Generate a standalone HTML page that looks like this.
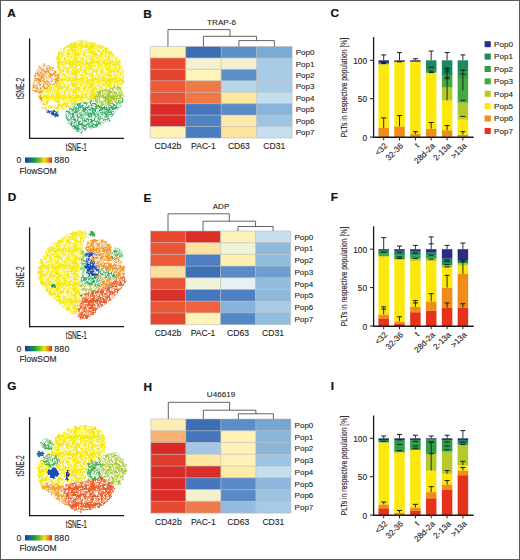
<!DOCTYPE html><html><head><meta charset="utf-8"><style>html,body{margin:0;padding:0;background:#fff;width:520px;height:560px;overflow:hidden}text{font-family:"Liberation Sans",sans-serif}</style></head><body><svg width="520" height="560" viewBox="0 0 520 560" style="display:block;font-family:'Liberation Sans',sans-serif">
<defs>
<pattern id="spk" width="17" height="17" patternUnits="userSpaceOnUse"><g fill="#fff"><circle cx="5.5" cy="2.6" r="0.69"/><circle cx="1.2" cy="9.1" r="0.56"/><circle cx="1.0" cy="8.6" r="0.42"/><circle cx="7.4" cy="1.2" r="0.44"/><circle cx="7.2" cy="14.1" r="0.46"/><circle cx="3.8" cy="10.7" r="0.83"/><circle cx="9.8" cy="6.7" r="0.84"/><circle cx="0.8" cy="14.6" r="0.53"/><circle cx="17.8" cy="14.6" r="0.53"/><circle cx="2.5" cy="2.0" r="0.54"/><circle cx="13.9" cy="3.1" r="0.66"/><circle cx="10.9" cy="6.3" r="0.65"/><circle cx="1.1" cy="1.0" r="0.49"/><circle cx="11.6" cy="7.3" r="0.54"/><circle cx="10.0" cy="7.7" r="0.53"/><circle cx="13.5" cy="11.9" r="0.51"/><circle cx="9.8" cy="8.9" r="0.79"/><circle cx="12.4" cy="4.9" r="0.84"/><circle cx="2.0" cy="7.1" r="0.74"/><circle cx="2.6" cy="8.3" r="0.42"/><circle cx="11.4" cy="13.0" r="0.66"/><circle cx="14.9" cy="5.3" r="0.71"/><circle cx="10.1" cy="9.9" r="0.61"/><circle cx="14.3" cy="16.1" r="0.61"/><circle cx="11.3" cy="1.0" r="0.72"/><circle cx="11.0" cy="-0.1" r="0.77"/><circle cx="11.0" cy="16.9" r="0.77"/><circle cx="4.8" cy="6.6" r="0.70"/><circle cx="0.4" cy="7.8" r="0.48"/><circle cx="17.4" cy="7.8" r="0.48"/><circle cx="2.0" cy="1.0" r="0.75"/><circle cx="2.2" cy="4.2" r="0.58"/><circle cx="14.8" cy="1.4" r="0.60"/><circle cx="9.3" cy="15.0" r="0.77"/><circle cx="14.7" cy="4.7" r="0.59"/><circle cx="6.1" cy="15.0" r="0.83"/><circle cx="2.6" cy="3.0" r="0.50"/><circle cx="4.0" cy="8.2" r="0.67"/><circle cx="4.5" cy="0.1" r="0.59"/><circle cx="4.5" cy="17.1" r="0.59"/><circle cx="6.3" cy="9.6" r="0.83"/><circle cx="11.7" cy="8.8" r="0.68"/><circle cx="11.5" cy="0.9" r="0.80"/><circle cx="13.3" cy="14.9" r="0.76"/><circle cx="6.7" cy="6.8" r="0.45"/><circle cx="10.8" cy="1.1" r="0.43"/><circle cx="3.5" cy="2.8" r="0.55"/><circle cx="0.9" cy="0.0" r="0.47"/><circle cx="0.9" cy="17.0" r="0.47"/><circle cx="1.7" cy="6.2" r="0.41"/><circle cx="14.9" cy="10.4" r="0.47"/><circle cx="4.3" cy="5.9" r="0.56"/><circle cx="2.1" cy="14.4" r="0.85"/><circle cx="7.9" cy="8.2" r="0.44"/><circle cx="1.7" cy="5.8" r="0.52"/><circle cx="14.1" cy="2.7" r="0.41"/><circle cx="-0.8" cy="9.0" r="0.47"/><circle cx="16.2" cy="9.0" r="0.47"/><circle cx="9.2" cy="0.5" r="0.64"/><circle cx="9.2" cy="17.5" r="0.64"/><circle cx="-0.4" cy="14.7" r="0.71"/><circle cx="16.6" cy="14.7" r="0.71"/><circle cx="4.4" cy="6.2" r="0.48"/><circle cx="13.1" cy="9.1" r="0.75"/><circle cx="5.6" cy="3.8" r="0.77"/><circle cx="-0.3" cy="14.5" r="0.76"/><circle cx="16.7" cy="14.5" r="0.76"/><circle cx="13.9" cy="12.6" r="0.50"/><circle cx="8.8" cy="6.0" r="0.41"/><circle cx="0.5" cy="4.8" r="0.52"/><circle cx="17.5" cy="4.8" r="0.52"/><circle cx="11.8" cy="-0.7" r="0.60"/><circle cx="11.8" cy="16.3" r="0.60"/><circle cx="15.9" cy="-0.2" r="0.83"/><circle cx="15.9" cy="16.8" r="0.83"/><circle cx="6.2" cy="3.7" r="0.50"/><circle cx="3.3" cy="3.5" r="0.68"/><circle cx="15.3" cy="14.3" r="0.62"/><circle cx="11.1" cy="13.6" r="0.44"/><circle cx="11.2" cy="15.5" r="0.75"/><circle cx="12.8" cy="8.1" r="0.48"/><circle cx="13.4" cy="5.7" r="0.76"/><circle cx="-0.5" cy="6.7" r="0.58"/><circle cx="16.5" cy="6.7" r="0.58"/><circle cx="16.1" cy="12.3" r="0.48"/><circle cx="2.2" cy="2.6" r="0.81"/><circle cx="13.7" cy="2.5" r="0.77"/><circle cx="-0.3" cy="11.2" r="0.56"/><circle cx="16.7" cy="11.2" r="0.56"/><circle cx="9.3" cy="2.2" r="0.41"/><circle cx="-0.5" cy="11.0" r="0.64"/><circle cx="16.5" cy="11.0" r="0.64"/><circle cx="15.9" cy="7.4" r="0.79"/><circle cx="14.0" cy="3.6" r="0.51"/><circle cx="5.0" cy="4.1" r="0.66"/><circle cx="4.4" cy="7.1" r="0.46"/><circle cx="15.5" cy="6.0" r="0.61"/><circle cx="9.9" cy="15.4" r="0.59"/><circle cx="15.6" cy="8.5" r="0.64"/><circle cx="8.9" cy="0.3" r="0.60"/><circle cx="8.9" cy="17.3" r="0.60"/><circle cx="3.1" cy="0.1" r="0.76"/><circle cx="3.1" cy="17.1" r="0.76"/><circle cx="2.9" cy="8.0" r="0.73"/><circle cx="9.5" cy="5.5" r="0.63"/><circle cx="9.4" cy="13.3" r="0.45"/><circle cx="9.5" cy="4.2" r="0.52"/></g></pattern>
<pattern id="spk2" width="17" height="17" patternUnits="userSpaceOnUse"><g fill="#fff"><circle cx="13.1" cy="8.6" r="0.70"/><circle cx="12.9" cy="15.5" r="0.65"/><circle cx="10.4" cy="8.6" r="0.68"/><circle cx="11.8" cy="7.7" r="0.69"/><circle cx="8.1" cy="16.0" r="0.76"/><circle cx="14.9" cy="16.0" r="0.57"/><circle cx="9.5" cy="16.0" r="0.83"/><circle cx="2.3" cy="2.1" r="0.65"/><circle cx="1.2" cy="4.1" r="0.48"/><circle cx="11.4" cy="13.3" r="0.85"/><circle cx="2.6" cy="12.2" r="0.75"/><circle cx="2.4" cy="15.0" r="0.89"/><circle cx="3.7" cy="-0.8" r="0.63"/><circle cx="3.7" cy="16.2" r="0.63"/><circle cx="8.3" cy="-0.2" r="0.82"/><circle cx="8.3" cy="16.8" r="0.82"/><circle cx="2.7" cy="7.3" r="0.68"/><circle cx="5.8" cy="3.3" r="0.59"/><circle cx="12.3" cy="0.3" r="0.70"/><circle cx="12.3" cy="17.3" r="0.70"/><circle cx="7.5" cy="0.3" r="0.60"/><circle cx="7.5" cy="17.3" r="0.60"/><circle cx="10.6" cy="8.7" r="0.48"/><circle cx="-0.3" cy="13.4" r="0.89"/><circle cx="16.7" cy="13.4" r="0.89"/><circle cx="1.8" cy="4.5" r="0.47"/><circle cx="13.2" cy="4.6" r="0.51"/><circle cx="7.2" cy="15.5" r="0.82"/><circle cx="4.4" cy="2.5" r="0.86"/><circle cx="9.7" cy="11.9" r="0.49"/><circle cx="1.0" cy="11.7" r="0.64"/><circle cx="1.2" cy="16.0" r="0.74"/><circle cx="13.6" cy="1.4" r="0.84"/><circle cx="1.1" cy="14.7" r="0.65"/><circle cx="5.8" cy="9.4" r="0.87"/><circle cx="4.6" cy="2.2" r="0.69"/><circle cx="4.1" cy="1.9" r="0.52"/><circle cx="0.9" cy="3.4" r="0.59"/><circle cx="17.9" cy="3.4" r="0.59"/><circle cx="5.2" cy="12.9" r="0.58"/><circle cx="8.5" cy="3.0" r="0.61"/><circle cx="0.3" cy="4.3" r="0.46"/><circle cx="17.3" cy="4.3" r="0.46"/><circle cx="12.5" cy="9.4" r="0.54"/><circle cx="8.1" cy="15.9" r="0.50"/><circle cx="13.9" cy="7.3" r="0.67"/><circle cx="14.2" cy="6.7" r="0.68"/><circle cx="11.7" cy="-0.3" r="0.60"/><circle cx="11.7" cy="16.7" r="0.60"/><circle cx="14.1" cy="12.0" r="0.74"/><circle cx="6.9" cy="5.9" r="0.47"/><circle cx="2.2" cy="1.2" r="0.78"/><circle cx="4.3" cy="2.8" r="0.49"/><circle cx="14.3" cy="14.8" r="0.75"/><circle cx="4.8" cy="4.1" r="0.58"/><circle cx="7.8" cy="2.7" r="0.65"/><circle cx="4.5" cy="-0.6" r="0.89"/><circle cx="4.5" cy="16.4" r="0.89"/><circle cx="9.3" cy="4.2" r="0.88"/><circle cx="5.3" cy="6.1" r="0.45"/><circle cx="6.5" cy="8.1" r="0.68"/><circle cx="3.4" cy="8.6" r="0.45"/><circle cx="4.5" cy="1.5" r="0.63"/><circle cx="0.7" cy="0.4" r="0.59"/><circle cx="0.7" cy="17.4" r="0.59"/><circle cx="17.7" cy="0.4" r="0.59"/><circle cx="17.7" cy="17.4" r="0.59"/><circle cx="4.0" cy="10.0" r="0.69"/><circle cx="12.8" cy="11.2" r="0.77"/><circle cx="14.9" cy="6.6" r="0.60"/><circle cx="-0.3" cy="2.5" r="0.78"/><circle cx="16.7" cy="2.5" r="0.78"/><circle cx="10.9" cy="0.7" r="0.83"/><circle cx="10.9" cy="17.7" r="0.83"/><circle cx="15.2" cy="10.7" r="0.78"/><circle cx="13.8" cy="2.4" r="0.69"/><circle cx="8.6" cy="14.2" r="0.81"/><circle cx="14.0" cy="9.9" r="0.85"/><circle cx="11.6" cy="11.8" r="0.55"/><circle cx="0.5" cy="2.3" r="0.61"/><circle cx="17.5" cy="2.3" r="0.61"/><circle cx="1.8" cy="14.2" r="0.70"/><circle cx="10.7" cy="10.6" r="0.76"/><circle cx="8.3" cy="0.1" r="0.81"/><circle cx="8.3" cy="17.1" r="0.81"/><circle cx="12.7" cy="8.6" r="0.69"/><circle cx="11.2" cy="1.1" r="0.78"/><circle cx="4.3" cy="1.3" r="0.57"/><circle cx="12.4" cy="3.5" r="0.78"/><circle cx="-0.4" cy="8.4" r="0.62"/><circle cx="16.6" cy="8.4" r="0.62"/><circle cx="8.1" cy="11.6" r="0.80"/><circle cx="10.5" cy="10.9" r="0.48"/><circle cx="2.5" cy="4.3" r="0.78"/><circle cx="5.2" cy="9.7" r="0.46"/><circle cx="1.0" cy="4.6" r="0.75"/><circle cx="11.8" cy="11.5" r="0.58"/><circle cx="8.8" cy="7.9" r="0.66"/><circle cx="2.0" cy="15.2" r="0.54"/><circle cx="-0.4" cy="15.9" r="0.46"/><circle cx="16.6" cy="15.9" r="0.46"/><circle cx="7.8" cy="13.9" r="0.89"/><circle cx="7.6" cy="4.6" r="0.54"/><circle cx="16.1" cy="3.6" r="0.71"/><circle cx="2.4" cy="8.9" r="0.88"/><circle cx="2.3" cy="13.9" r="0.68"/><circle cx="15.1" cy="12.0" r="0.55"/><circle cx="15.3" cy="8.3" r="0.46"/><circle cx="0.1" cy="8.4" r="0.65"/><circle cx="17.1" cy="8.4" r="0.65"/><circle cx="5.1" cy="2.4" r="0.60"/><circle cx="5.4" cy="14.3" r="0.45"/><circle cx="12.8" cy="14.3" r="0.50"/><circle cx="15.7" cy="12.1" r="0.86"/><circle cx="4.9" cy="6.3" r="0.63"/><circle cx="-0.0" cy="10.0" r="0.61"/><circle cx="17.0" cy="10.0" r="0.61"/><circle cx="7.3" cy="4.7" r="0.47"/><circle cx="1.7" cy="14.2" r="0.58"/><circle cx="15.9" cy="4.2" r="0.57"/><circle cx="8.7" cy="3.2" r="0.62"/><circle cx="-0.7" cy="15.0" r="0.82"/><circle cx="16.3" cy="15.0" r="0.82"/><circle cx="10.7" cy="15.5" r="0.87"/><circle cx="9.3" cy="12.2" r="0.47"/><circle cx="12.4" cy="7.7" r="0.79"/><circle cx="11.0" cy="4.9" r="0.47"/><circle cx="15.8" cy="2.2" r="0.66"/><circle cx="5.8" cy="5.1" r="0.78"/><circle cx="-0.4" cy="4.4" r="0.75"/><circle cx="16.6" cy="4.4" r="0.75"/><circle cx="5.1" cy="9.5" r="0.63"/><circle cx="2.8" cy="2.7" r="0.54"/><circle cx="15.4" cy="8.5" r="0.55"/><circle cx="15.4" cy="-0.1" r="0.65"/><circle cx="15.4" cy="16.9" r="0.65"/><circle cx="2.4" cy="3.3" r="0.49"/><circle cx="5.8" cy="1.5" r="0.56"/><circle cx="4.4" cy="9.7" r="0.85"/><circle cx="12.7" cy="7.0" r="0.64"/><circle cx="8.9" cy="6.4" r="0.60"/><circle cx="1.1" cy="4.7" r="0.89"/><circle cx="2.1" cy="8.6" r="0.73"/></g></pattern>
<filter id="rough" x="-10%" y="-10%" width="120%" height="120%"><feTurbulence type="fractalNoise" baseFrequency="0.3" numOctaves="2" seed="5" result="t"/><feDisplacementMap in="SourceGraphic" in2="t" scale="4.5" xChannelSelector="R" yChannelSelector="G" result="d"/><feGaussianBlur in="d" stdDeviation="0.55"/></filter>
<linearGradient id="cbar" x1="0" x2="1" y1="0" y2="0"><stop offset="0" stop-color="#1d3a8f"/><stop offset="0.18" stop-color="#1a6a8a"/><stop offset="0.35" stop-color="#16993c"/><stop offset="0.55" stop-color="#7cc12a"/><stop offset="0.72" stop-color="#f5e11b"/><stop offset="0.86" stop-color="#f08a1c"/><stop offset="1" stop-color="#d9281e"/></linearGradient>
</defs>
<rect x="0" y="0" width="520" height="560" fill="#fff"/>
<rect x="0.5" y="0.5" width="519" height="559" fill="none" stroke="#5a5a5a" stroke-width="1"/>
<text x="7.3" y="17.3" font-size="11.8" text-anchor="start" font-weight="bold" fill="#111" stroke="#111" stroke-width="0.2" >A</text>
<text x="7.7" y="201.2" font-size="11.8" text-anchor="start" font-weight="bold" fill="#111" stroke="#111" stroke-width="0.2" >D</text>
<text x="7.3" y="389.7" font-size="11.8" text-anchor="start" font-weight="bold" fill="#111" stroke="#111" stroke-width="0.2" >G</text>
<text x="143.2" y="17.7" font-size="11.8" text-anchor="start" font-weight="bold" fill="#111" stroke="#111" stroke-width="0.2" >B</text>
<text x="143.5" y="201.5" font-size="11.8" text-anchor="start" font-weight="bold" fill="#111" stroke="#111" stroke-width="0.2" >E</text>
<text x="143.5" y="391.2" font-size="11.8" text-anchor="start" font-weight="bold" fill="#111" stroke="#111" stroke-width="0.2" >H</text>
<text x="330.6" y="17.1" font-size="11.8" text-anchor="start" font-weight="bold" fill="#111" stroke="#111" stroke-width="0.2" >C</text>
<text x="330.8" y="201.2" font-size="11.8" text-anchor="start" font-weight="bold" fill="#111" stroke="#111" stroke-width="0.2" >F</text>
<text x="330.8" y="389.7" font-size="11.8" text-anchor="start" font-weight="bold" fill="#111" stroke="#111" stroke-width="0.2" >I</text>
<line x1="29.6" y1="38.5" x2="29.6" y2="138.9" stroke="#1a1a1a" stroke-width="1.3"/>
<line x1="29" y1="138.3" x2="124" y2="138.3" stroke="#1a1a1a" stroke-width="1.3"/>
<text x="76.4" y="150.9" font-size="10.6" text-anchor="middle" fill="#222" stroke="#222" stroke-width="0.15" transform="translate(76.4 0) scale(0.62 1) translate(-76.4 0)">tSNE-1</text>
<text x="0" y="0" font-size="10.6" text-anchor="middle" fill="#222" stroke="#222" stroke-width="0.15" transform="translate(24.0 88.4) rotate(-90) scale(0.62 1)">tSNE-2</text>
<text x="16.4" y="163.2" font-size="8.6" text-anchor="start" font-weight="normal" fill="#222" stroke="#222" stroke-width="0.1" >0</text>
<rect x="25" y="157.4" width="27" height="5.4" fill="url(#cbar)"/>
<text x="54.2" y="163.3" font-size="8.8" text-anchor="start" font-weight="normal" fill="#222" stroke="#222" stroke-width="0.1" letter-spacing="0.25">880</text>
<text x="19.4" y="173.6" font-size="8.5" text-anchor="start" font-weight="normal" fill="#222" stroke="#222" stroke-width="0.1" >FlowSOM</text>
<g filter="url(#rough)">
<path d="M57,55C57.83,52.5 59.83,49.83 62,48C64.17,46.17 67.67,45.17 70,44C72.33,42.83 74,41.58 76,41C78,40.42 80,40.5 82,40.5C84,40.5 85.83,40.58 88,41C90.17,41.42 92.67,42.17 95,43C97.33,43.83 99.83,45 102,46C104.17,47 106,47.67 108,49C110,50.33 112.17,52.33 114,54C115.83,55.67 117.67,57 119,59C120.33,61 121.17,63.5 122,66C122.83,68.5 123.75,71.33 124,74C124.25,76.67 124.17,80 123.5,82C122.83,84 121.75,85 120,86C118.25,87 115.33,87.33 113,88C110.67,88.67 108.17,89.33 106,90C103.83,90.67 101.67,91 100,92C98.33,93 97.17,94.67 96,96C94.83,97.33 94.83,99.17 93,100C91.17,100.83 87.5,100.5 85,101C82.5,101.5 80.17,102.17 78,103C75.83,103.83 74,105 72,106C70,107 68,108.17 66,109C64,109.83 62.17,111 60,111C57.83,111 55.17,109.5 53,109C50.83,108.5 48.67,108.83 47,108C45.33,107.17 44,106 43,104C42,102 41.17,98.33 41,96C40.83,93.67 40.83,91.5 42,90C43.17,88.5 45.83,87.83 48,87C50.17,86.17 53.17,86.17 55,85C56.83,83.83 58.5,82.17 59,80C59.5,77.83 58.33,74.83 58,72C57.67,69.17 57.17,65.83 57,63C56.83,60.17 56.17,57.5 57,55Z" fill="#f6ea12"/>
<path d="M57,55C57.83,52.5 59.83,49.83 62,48C64.17,46.17 67.67,45.17 70,44C72.33,42.83 74,41.58 76,41C78,40.42 80,40.5 82,40.5C84,40.5 85.83,40.58 88,41C90.17,41.42 92.67,42.17 95,43C97.33,43.83 99.83,45 102,46C104.17,47 106,47.67 108,49C110,50.33 112.17,52.33 114,54C115.83,55.67 117.67,57 119,59C120.33,61 121.17,63.5 122,66C122.83,68.5 123.75,71.33 124,74C124.25,76.67 124.17,80 123.5,82C122.83,84 121.75,85 120,86C118.25,87 115.33,87.33 113,88C110.67,88.67 108.17,89.33 106,90C103.83,90.67 101.67,91 100,92C98.33,93 97.17,94.67 96,96C94.83,97.33 94.83,99.17 93,100C91.17,100.83 87.5,100.5 85,101C82.5,101.5 80.17,102.17 78,103C75.83,103.83 74,105 72,106C70,107 68,108.17 66,109C64,109.83 62.17,111 60,111C57.83,111 55.17,109.5 53,109C50.83,108.5 48.67,108.83 47,108C45.33,107.17 44,106 43,104C42,102 41.17,98.33 41,96C40.83,93.67 40.83,91.5 42,90C43.17,88.5 45.83,87.83 48,87C50.17,86.17 53.17,86.17 55,85C56.83,83.83 58.5,82.17 59,80C59.5,77.83 58.33,74.83 58,72C57.67,69.17 57.17,65.83 57,63C56.83,60.17 56.17,57.5 57,55Z" fill="url(#spk)"/>
<path d="M38,68C39.33,66.22 40.77,64.63 43,64.3C45.23,63.97 48.98,64.55 51.4,66C53.82,67.45 56.07,70.67 57.5,73C58.93,75.33 60.25,78.17 60,80C59.75,81.83 57.83,82.83 56,84C54.17,85.17 51.17,86 49,87C46.83,88 44.33,88.67 43,90C41.67,91.33 41.08,93.17 41,95C40.92,96.83 41.92,99.17 42.5,101C43.08,102.83 44.25,104.83 44.5,106C44.75,107.17 44.58,108.33 44,108C43.42,107.67 41.83,105.83 41,104C40.17,102.17 39.83,99 39,97C38.17,95 37.17,93.17 36,92C34.83,90.83 32.5,91.33 32,90C31.5,88.67 32.5,86.5 33,84C33.5,81.5 34.17,77.67 35,75C35.83,72.33 36.67,69.78 38,68Z" fill="#f09a28"/>
<path d="M38,68C39.33,66.22 40.77,64.63 43,64.3C45.23,63.97 48.98,64.55 51.4,66C53.82,67.45 56.07,70.67 57.5,73C58.93,75.33 60.25,78.17 60,80C59.75,81.83 57.83,82.83 56,84C54.17,85.17 51.17,86 49,87C46.83,88 44.33,88.67 43,90C41.67,91.33 41.08,93.17 41,95C40.92,96.83 41.92,99.17 42.5,101C43.08,102.83 44.25,104.83 44.5,106C44.75,107.17 44.58,108.33 44,108C43.42,107.67 41.83,105.83 41,104C40.17,102.17 39.83,99 39,97C38.17,95 37.17,93.17 36,92C34.83,90.83 32.5,91.33 32,90C31.5,88.67 32.5,86.5 33,84C33.5,81.5 34.17,77.67 35,75C35.83,72.33 36.67,69.78 38,68Z" fill="url(#spk2)"/>
<ellipse cx="53" cy="103.5" rx="4.5" ry="2.6" fill="#fff"/>
<path d="M45,109.5C45.5,109.17 47.83,109.75 49,110C50.17,110.25 51,110.83 52,111C53,111.17 54,110.67 55,111C56,111.33 57.33,112.17 58,113C58.67,113.83 59.17,115.17 59,116C58.83,116.83 57.83,118 57,118C56.17,118 55.17,116.67 54,116C52.83,115.33 51.33,114.67 50,114C48.67,113.33 46.83,112.75 46,112C45.17,111.25 44.5,109.83 45,109.5Z" fill="#1f4fa8"/>
<path d="M45,109.5C45.5,109.17 47.83,109.75 49,110C50.17,110.25 51,110.83 52,111C53,111.17 54,110.67 55,111C56,111.33 57.33,112.17 58,113C58.67,113.83 59.17,115.17 59,116C58.83,116.83 57.83,118 57,118C56.17,118 55.17,116.67 54,116C52.83,115.33 51.33,114.67 50,114C48.67,113.33 46.83,112.75 46,112C45.17,111.25 44.5,109.83 45,109.5Z" fill="url(#spk)"/>
<path d="M65,112C65.67,110.67 68.17,109.33 70,108C71.83,106.67 73.5,105 76,104C78.5,103 82,102.67 85,102C88,101.33 92,101.58 94,100C96,98.42 94.88,94.23 97,92.5C99.12,90.77 103.2,90.57 106.7,89.6C110.2,88.63 115.45,86.38 118,86.7C120.55,87.02 121.17,88.95 122,91.5C122.83,94.05 124,98.75 123,102C122,105.25 118.17,108.17 116,111C113.83,113.83 112.17,116.83 110,119C107.83,121.17 105.67,122.67 103,124C100.33,125.33 97,126 94,127C91,128 87.5,129 85,130C82.5,131 81.17,133.33 79,133C76.83,132.67 73.83,129.83 72,128C70.17,126.17 69,124 68,122C67,120 66.5,117.67 66,116C65.5,114.33 64.33,113.33 65,112Z" fill="#35a865"/>
<path d="M65,112C65.67,110.67 68.17,109.33 70,108C71.83,106.67 73.5,105 76,104C78.5,103 82,102.67 85,102C88,101.33 92,101.58 94,100C96,98.42 94.88,94.23 97,92.5C99.12,90.77 103.2,90.57 106.7,89.6C110.2,88.63 115.45,86.38 118,86.7C120.55,87.02 121.17,88.95 122,91.5C122.83,94.05 124,98.75 123,102C122,105.25 118.17,108.17 116,111C113.83,113.83 112.17,116.83 110,119C107.83,121.17 105.67,122.67 103,124C100.33,125.33 97,126 94,127C91,128 87.5,129 85,130C82.5,131 81.17,133.33 79,133C76.83,132.67 73.83,129.83 72,128C70.17,126.17 69,124 68,122C67,120 66.5,117.67 66,116C65.5,114.33 64.33,113.33 65,112Z" fill="url(#spk2)"/>
<path d="M96,93C97.95,90.6 103.03,90.65 106.7,89.6C110.37,88.55 115.37,86.47 118,86.7C120.63,86.93 121.75,88.95 122.5,91C123.25,93.05 124.08,96.83 122.5,99C120.92,101.17 116.25,102.83 113,104C109.75,105.17 106,106 103,106C100,106 96.17,106.17 95,104C93.83,101.83 94.05,95.4 96,93Z" fill="#a6ca30"/>
<path d="M96,93C97.95,90.6 103.03,90.65 106.7,89.6C110.37,88.55 115.37,86.47 118,86.7C120.63,86.93 121.75,88.95 122.5,91C123.25,93.05 124.08,96.83 122.5,99C120.92,101.17 116.25,102.83 113,104C109.75,105.17 106,106 103,106C100,106 96.17,106.17 95,104C93.83,101.83 94.05,95.4 96,93Z" fill="url(#spk)"/>
</g>
<line x1="29.6" y1="227.3" x2="29.6" y2="327.3" stroke="#1a1a1a" stroke-width="1.3"/>
<line x1="29" y1="326.7" x2="124" y2="326.7" stroke="#1a1a1a" stroke-width="1.3"/>
<text x="76.4" y="339.3" font-size="10.6" text-anchor="middle" fill="#222" stroke="#222" stroke-width="0.15" transform="translate(76.4 0) scale(0.62 1) translate(-76.4 0)">tSNE-1</text>
<text x="0" y="0" font-size="10.6" text-anchor="middle" fill="#222" stroke="#222" stroke-width="0.15" transform="translate(24.0 277) rotate(-90) scale(0.62 1)">tSNE-2</text>
<text x="16.4" y="351.7" font-size="8.6" text-anchor="start" font-weight="normal" fill="#222" stroke="#222" stroke-width="0.1" >0</text>
<rect x="25" y="345.9" width="27" height="5.4" fill="url(#cbar)"/>
<text x="54.2" y="351.8" font-size="8.8" text-anchor="start" font-weight="normal" fill="#222" stroke="#222" stroke-width="0.1" letter-spacing="0.25">880</text>
<text x="19.4" y="362" font-size="8.5" text-anchor="start" font-weight="normal" fill="#222" stroke="#222" stroke-width="0.1" >FlowSOM</text>
<g filter="url(#rough)">
<path d="M37.7,272C37.9,269.07 39.17,264.55 40,262C40.83,259.45 41.13,259.33 42.7,256.7C44.27,254.07 46.68,248.92 49.4,246.2C52.12,243.48 56.27,242.17 59,240.4C61.73,238.63 62.92,237.2 65.8,235.6C68.68,234 73.1,231.65 76.3,230.8C79.5,229.95 83.22,229.97 85,230.5C86.78,231.03 87,232.42 87,234C87,235.58 85.83,237.67 85,240C84.17,242.33 82.75,245.33 82,248C81.25,250.67 80.83,253 80.5,256C80.17,259 80.17,262.33 80,266C79.83,269.67 79.42,274 79.5,278C79.58,282 80.33,286.33 80.5,290C80.67,293.67 80.67,297.33 80.5,300C80.33,302.67 80.08,304 79.5,306C78.92,308 78,310.63 77,312C76,313.37 75.7,314.78 73.5,314.2C71.3,313.62 67.02,311.07 63.8,308.5C60.58,305.93 57.4,302.02 54.2,298.8C51,295.58 47.17,292.4 44.6,289.2C42.03,286 39.95,282.47 38.8,279.6C37.65,276.73 37.5,274.93 37.7,272Z" fill="#f6ea12"/>
<path d="M37.7,272C37.9,269.07 39.17,264.55 40,262C40.83,259.45 41.13,259.33 42.7,256.7C44.27,254.07 46.68,248.92 49.4,246.2C52.12,243.48 56.27,242.17 59,240.4C61.73,238.63 62.92,237.2 65.8,235.6C68.68,234 73.1,231.65 76.3,230.8C79.5,229.95 83.22,229.97 85,230.5C86.78,231.03 87,232.42 87,234C87,235.58 85.83,237.67 85,240C84.17,242.33 82.75,245.33 82,248C81.25,250.67 80.83,253 80.5,256C80.17,259 80.17,262.33 80,266C79.83,269.67 79.42,274 79.5,278C79.58,282 80.33,286.33 80.5,290C80.67,293.67 80.67,297.33 80.5,300C80.33,302.67 80.08,304 79.5,306C78.92,308 78,310.63 77,312C76,313.37 75.7,314.78 73.5,314.2C71.3,313.62 67.02,311.07 63.8,308.5C60.58,305.93 57.4,302.02 54.2,298.8C51,295.58 47.17,292.4 44.6,289.2C42.03,286 39.95,282.47 38.8,279.6C37.65,276.73 37.5,274.93 37.7,272Z" fill="url(#spk)"/>
<path d="M86.7,243.4C87.77,241.65 90.32,240.3 92.4,239.5C94.48,238.7 96.8,238.27 99.2,238.6C101.6,238.93 104.88,240.07 106.8,241.5C108.72,242.93 109.83,245.45 110.7,247.2C111.57,248.95 110.78,250.2 112,252C113.22,253.8 116.17,255.83 118,258C119.83,260.17 121.83,262.67 123,265C124.17,267.33 124.8,270.17 125,272C125.2,273.83 125.62,274.73 124.2,276C122.78,277.27 120.2,277.4 116.5,279.6C112.8,281.8 105.42,287.63 102,289.2C98.58,290.77 97.17,290.53 96,289C94.83,287.47 95.67,282.83 95,280C94.33,277.17 93.17,275.33 92,272C90.83,268.67 89,263.67 88,260C87,256.33 86.22,252.77 86,250C85.78,247.23 85.63,245.15 86.7,243.4Z" fill="#f29a2e"/>
<path d="M86.7,243.4C87.77,241.65 90.32,240.3 92.4,239.5C94.48,238.7 96.8,238.27 99.2,238.6C101.6,238.93 104.88,240.07 106.8,241.5C108.72,242.93 109.83,245.45 110.7,247.2C111.57,248.95 110.78,250.2 112,252C113.22,253.8 116.17,255.83 118,258C119.83,260.17 121.83,262.67 123,265C124.17,267.33 124.8,270.17 125,272C125.2,273.83 125.62,274.73 124.2,276C122.78,277.27 120.2,277.4 116.5,279.6C112.8,281.8 105.42,287.63 102,289.2C98.58,290.77 97.17,290.53 96,289C94.83,287.47 95.67,282.83 95,280C94.33,277.17 93.17,275.33 92,272C90.83,268.67 89,263.67 88,260C87,256.33 86.22,252.77 86,250C85.78,247.23 85.63,245.15 86.7,243.4Z" fill="url(#spk)"/>
<path d="M78,306.5C79.6,302.03 83.6,294.08 87.6,291.2C91.6,288.32 97.18,291.13 102,289.2C106.82,287.27 112.8,281.83 116.5,279.6C120.2,277.37 122.77,276.12 124.2,275.8C125.63,275.48 125.1,276.42 125.1,277.7C125.1,278.98 125.63,280.62 124.2,283.5C122.77,286.38 119.4,291.8 116.5,295C113.6,298.2 109.53,300.45 106.8,302.7C104.07,304.95 102.5,306.42 100.1,308.5C97.7,310.58 95.12,313.45 92.4,315.2C89.68,316.95 86.2,318.53 83.8,319C81.4,319.47 78.97,320.08 78,318C77.03,315.92 76.4,310.97 78,306.5Z" fill="#e8602a"/>
<path d="M78,306.5C79.6,302.03 83.6,294.08 87.6,291.2C91.6,288.32 97.18,291.13 102,289.2C106.82,287.27 112.8,281.83 116.5,279.6C120.2,277.37 122.77,276.12 124.2,275.8C125.63,275.48 125.1,276.42 125.1,277.7C125.1,278.98 125.63,280.62 124.2,283.5C122.77,286.38 119.4,291.8 116.5,295C113.6,298.2 109.53,300.45 106.8,302.7C104.07,304.95 102.5,306.42 100.1,308.5C97.7,310.58 95.12,313.45 92.4,315.2C89.68,316.95 86.2,318.53 83.8,319C81.4,319.47 78.97,320.08 78,318C77.03,315.92 76.4,310.97 78,306.5Z" fill="url(#spk)"/>
<path d="M81.8,274C82.63,272.83 83.97,274.67 86,275C88.03,275.33 91.5,275.5 94,276C96.5,276.5 100,276.5 101,278C102,279.5 100.83,283.17 100,285C99.17,286.83 98,288 96,289C94,290 90.33,290.83 88,291C85.67,291.17 83.17,291.5 82,290C80.83,288.5 81.03,284.67 81,282C80.97,279.33 80.97,275.17 81.8,274Z" fill="#35a865"/>
<path d="M81.8,274C82.63,272.83 83.97,274.67 86,275C88.03,275.33 91.5,275.5 94,276C96.5,276.5 100,276.5 101,278C102,279.5 100.83,283.17 100,285C99.17,286.83 98,288 96,289C94,290 90.33,290.83 88,291C85.67,291.17 83.17,291.5 82,290C80.83,288.5 81.03,284.67 81,282C80.97,279.33 80.97,275.17 81.8,274Z" fill="url(#spk2)"/>
<path d="M81.2,252C81.78,249 83.87,249.83 84.5,252C85.13,254.17 85.08,261.17 85,265C84.92,268.83 84.5,272.5 84,275C83.5,277.5 82.5,280.83 82,280C81.5,279.17 81.13,274.67 81,270C80.87,265.33 80.62,255 81.2,252Z" fill="#7ac043"/>
<path d="M81.2,252C81.78,249 83.87,249.83 84.5,252C85.13,254.17 85.08,261.17 85,265C84.92,268.83 84.5,272.5 84,275C83.5,277.5 82.5,280.83 82,280C81.5,279.17 81.13,274.67 81,270C80.87,265.33 80.62,255 81.2,252Z" fill="url(#spk2)"/>
<path d="M80.5,283C81.67,282 85.42,283.5 88,284C90.58,284.5 94.83,285 96,286C97.17,287 96.33,289.08 95,290C93.67,290.92 90.33,291.5 88,291.5C85.67,291.5 82.25,291.42 81,290C79.75,288.58 79.33,284 80.5,283Z" fill="#a6ca30"/>
<path d="M80.5,283C81.67,282 85.42,283.5 88,284C90.58,284.5 94.83,285 96,286C97.17,287 96.33,289.08 95,290C93.67,290.92 90.33,291.5 88,291.5C85.67,291.5 82.25,291.42 81,290C79.75,288.58 79.33,284 80.5,283Z" fill="url(#spk2)"/>
<line x1="94.6" y1="259.5" x2="123" y2="265" stroke="#fff" stroke-width="1.1"/>
<path d="M85.5,261C85.92,259 87.08,258.17 88,258C88.92,257.83 89.83,259 91,260C92.17,261 93.83,262.67 95,264C96.17,265.33 97.58,266.33 98,268C98.42,269.67 98.17,272.67 97.5,274C96.83,275.33 95.58,275.83 94,276C92.42,276.17 89.42,276 88,275C86.58,274 85.92,272.33 85.5,270C85.08,267.67 85.08,263 85.5,261Z" fill="#1f4fa8"/>
<path d="M85.5,261C85.92,259 87.08,258.17 88,258C88.92,257.83 89.83,259 91,260C92.17,261 93.83,262.67 95,264C96.17,265.33 97.58,266.33 98,268C98.42,269.67 98.17,272.67 97.5,274C96.83,275.33 95.58,275.83 94,276C92.42,276.17 89.42,276 88,275C86.58,274 85.92,272.33 85.5,270C85.08,267.67 85.08,263 85.5,261Z" fill="url(#spk)"/>
<path d="M85.7,253C86.7,252.25 90.12,252.17 92,252.5C93.88,252.83 97,254.25 97,255C97,255.75 93.83,256.67 92,257C90.17,257.33 87.05,257.67 86,257C84.95,256.33 84.7,253.75 85.7,253Z" fill="#1f4fa8"/>
<path d="M85.7,253C86.7,252.25 90.12,252.17 92,252.5C93.88,252.83 97,254.25 97,255C97,255.75 93.83,256.67 92,257C90.17,257.33 87.05,257.67 86,257C84.95,256.33 84.7,253.75 85.7,253Z" fill="url(#spk)"/>
<path d="M101,268.5C102.17,267.5 105.42,269.08 108,270C110.58,270.92 115.33,272.67 116.5,274C117.67,275.33 116.42,277.33 115,278C113.58,278.67 110.33,278.33 108,278C105.67,277.67 102.17,277.58 101,276C99.83,274.42 99.83,269.5 101,268.5Z" fill="#35a865"/>
<path d="M101,268.5C102.17,267.5 105.42,269.08 108,270C110.58,270.92 115.33,272.67 116.5,274C117.67,275.33 116.42,277.33 115,278C113.58,278.67 110.33,278.33 108,278C105.67,277.67 102.17,277.58 101,276C99.83,274.42 99.83,269.5 101,268.5Z" fill="url(#spk2)"/>
<path d="M112,252C112.5,250.33 114.5,248.33 116,248C117.5,247.67 119.83,248.67 121,250C122.17,251.33 123.33,254.5 123,256C122.67,257.5 120.67,258.67 119,259C117.33,259.33 114.17,259.17 113,258C111.83,256.83 111.5,253.67 112,252Z" fill="#4aae4a"/>
<path d="M112,252C112.5,250.33 114.5,248.33 116,248C117.5,247.67 119.83,248.67 121,250C122.17,251.33 123.33,254.5 123,256C122.67,257.5 120.67,258.67 119,259C117.33,259.33 114.17,259.17 113,258C111.83,256.83 111.5,253.67 112,252Z" fill="url(#spk2)"/>
<ellipse cx="92.4" cy="234.2" rx="2.8" ry="2.4" fill="#4aae4a"/>
<ellipse cx="53.3" cy="285.9" rx="2.3" ry="2" fill="#3a9a45"/>
<ellipse cx="81.2" cy="295.5" rx="1.3" ry="1.3" fill="#3a9a45"/>
</g>
<line x1="29.6" y1="417" x2="29.6" y2="516.2" stroke="#1a1a1a" stroke-width="1.3"/>
<line x1="29" y1="515.6" x2="124" y2="515.6" stroke="#1a1a1a" stroke-width="1.3"/>
<text x="76.4" y="528.2" font-size="10.6" text-anchor="middle" fill="#222" stroke="#222" stroke-width="0.15" transform="translate(76.4 0) scale(0.62 1) translate(-76.4 0)">tSNE-1</text>
<text x="0" y="0" font-size="10.6" text-anchor="middle" fill="#222" stroke="#222" stroke-width="0.15" transform="translate(24.0 466) rotate(-90) scale(0.62 1)">tSNE-2</text>
<text x="16.4" y="540.9" font-size="8.6" text-anchor="start" font-weight="normal" fill="#222" stroke="#222" stroke-width="0.1" >0</text>
<rect x="25" y="535.1" width="27" height="5.4" fill="url(#cbar)"/>
<text x="54.2" y="541" font-size="8.8" text-anchor="start" font-weight="normal" fill="#222" stroke="#222" stroke-width="0.1" letter-spacing="0.25">880</text>
<text x="19.4" y="551.2" font-size="8.5" text-anchor="start" font-weight="normal" fill="#222" stroke="#222" stroke-width="0.1" >FlowSOM</text>
<g filter="url(#rough)">
<path d="M54,441C54.97,439.58 56.38,436.42 58.8,434.5C61.22,432.58 65.3,430.92 68.5,429.5C71.7,428.08 74.42,426.58 78,426C81.58,425.42 86.5,425.42 90,426C93.5,426.58 96.67,427.83 99,429.5C101.33,431.17 102.92,433.42 104,436C105.08,438.58 105.54,442.25 105.5,445C105.46,447.75 105.5,450 103.75,452.5C102,455 97.71,457.5 95,460C92.29,462.5 89.17,464.58 87.5,467.5C85.83,470.42 86.25,475 85,477.5C83.75,480 82.02,481.42 80,482.5C77.98,483.58 75.17,484.12 72.9,484C70.63,483.88 68.55,480.8 66.4,481.8C64.25,482.8 61.9,487.47 60,490C58.1,492.53 57.15,496.77 55,497C52.85,497.23 49.48,493.23 47.1,491.4C44.72,489.57 42.3,488.5 40.7,486C39.1,483.5 37.95,479.97 37.5,476.4C37.05,472.83 36.92,467.67 38,464.6C39.08,461.53 41.5,460.6 44,458C46.5,455.4 51.5,451.5 53,449C54.5,446.5 52.83,444.33 53,443C53.17,441.67 53.03,442.42 54,441Z" fill="#f6ea12"/>
<path d="M54,441C54.97,439.58 56.38,436.42 58.8,434.5C61.22,432.58 65.3,430.92 68.5,429.5C71.7,428.08 74.42,426.58 78,426C81.58,425.42 86.5,425.42 90,426C93.5,426.58 96.67,427.83 99,429.5C101.33,431.17 102.92,433.42 104,436C105.08,438.58 105.54,442.25 105.5,445C105.46,447.75 105.5,450 103.75,452.5C102,455 97.71,457.5 95,460C92.29,462.5 89.17,464.58 87.5,467.5C85.83,470.42 86.25,475 85,477.5C83.75,480 82.02,481.42 80,482.5C77.98,483.58 75.17,484.12 72.9,484C70.63,483.88 68.55,480.8 66.4,481.8C64.25,482.8 61.9,487.47 60,490C58.1,492.53 57.15,496.77 55,497C52.85,497.23 49.48,493.23 47.1,491.4C44.72,489.57 42.3,488.5 40.7,486C39.1,483.5 37.95,479.97 37.5,476.4C37.05,472.83 36.92,467.67 38,464.6C39.08,461.53 41.5,460.6 44,458C46.5,455.4 51.5,451.5 53,449C54.5,446.5 52.83,444.33 53,443C53.17,441.67 53.03,442.42 54,441Z" fill="url(#spk)"/>
<path d="M44,484C45.33,483.17 47.67,483 50,483C52.33,483 55.67,483.5 58,484C60.33,484.5 62.33,484.67 64,486C65.67,487.33 67,489.67 68,492C69,494.33 70,497.67 70,500C70,502.33 69.33,505.5 68,506C66.67,506.5 64.17,504.33 62,503C59.83,501.67 57.33,499.83 55,498C52.67,496.17 50.17,493.67 48,492C45.83,490.33 42.67,489.33 42,488C41.33,486.67 42.67,484.83 44,484Z" fill="#f2a534"/>
<path d="M44,484C45.33,483.17 47.67,483 50,483C52.33,483 55.67,483.5 58,484C60.33,484.5 62.33,484.67 64,486C65.67,487.33 67,489.67 68,492C69,494.33 70,497.67 70,500C70,502.33 69.33,505.5 68,506C66.67,506.5 64.17,504.33 62,503C59.83,501.67 57.33,499.83 55,498C52.67,496.17 50.17,493.67 48,492C45.83,490.33 42.67,489.33 42,488C41.33,486.67 42.67,484.83 44,484Z" fill="url(#spk)"/>
<path d="M66,486C67.33,484.17 69.67,483.75 72,483C74.33,482.25 77.5,481.93 80,481.5C82.5,481.07 84.5,480.98 87,480.4C89.5,479.82 92.72,478.57 95,478C97.28,477.43 98.53,476.83 100.7,477C102.87,477.17 105.95,478.17 108,479C110.05,479.83 112,480.17 113,482C114,483.83 114.33,487.67 114,490C113.67,492.33 112.67,493.57 111,496C109.33,498.43 106.5,502.6 104,504.6C101.5,506.6 98.27,507.13 96,508C93.73,508.87 92.57,509.22 90.4,509.8C88.23,510.38 85.4,511.3 83,511.5C80.6,511.7 78.17,511.75 76,511C73.83,510.25 71.67,508.67 70,507C68.33,505.33 67,503.17 66,501C65,498.83 64,496.5 64,494C64,491.5 64.67,487.83 66,486Z" fill="#e8602a"/>
<path d="M66,486C67.33,484.17 69.67,483.75 72,483C74.33,482.25 77.5,481.93 80,481.5C82.5,481.07 84.5,480.98 87,480.4C89.5,479.82 92.72,478.57 95,478C97.28,477.43 98.53,476.83 100.7,477C102.87,477.17 105.95,478.17 108,479C110.05,479.83 112,480.17 113,482C114,483.83 114.33,487.67 114,490C113.67,492.33 112.67,493.57 111,496C109.33,498.43 106.5,502.6 104,504.6C101.5,506.6 98.27,507.13 96,508C93.73,508.87 92.57,509.22 90.4,509.8C88.23,510.38 85.4,511.3 83,511.5C80.6,511.7 78.17,511.75 76,511C73.83,510.25 71.67,508.67 70,507C68.33,505.33 67,503.17 66,501C65,498.83 64,496.5 64,494C64,491.5 64.67,487.83 66,486Z" fill="url(#spk)"/>
<path d="M97.5,460C98.17,456.67 101.5,456.25 104,455C106.5,453.75 110.04,452.71 112.5,452.5C114.96,452.29 116.67,451.88 118.75,453.75C120.83,455.62 123.75,461.04 125,463.75C126.25,466.46 126.88,466.88 126.25,470C125.62,473.12 122.92,480 121.25,482.5C119.58,485 118.54,485.42 116.25,485C113.96,484.58 110.21,481.67 107.5,480C104.79,478.33 101.67,478.33 100,475C98.33,471.67 96.83,463.33 97.5,460Z" fill="#a6ca30"/>
<path d="M97.5,460C98.17,456.67 101.5,456.25 104,455C106.5,453.75 110.04,452.71 112.5,452.5C114.96,452.29 116.67,451.88 118.75,453.75C120.83,455.62 123.75,461.04 125,463.75C126.25,466.46 126.88,466.88 126.25,470C125.62,473.12 122.92,480 121.25,482.5C119.58,485 118.54,485.42 116.25,485C113.96,484.58 110.21,481.67 107.5,480C104.79,478.33 101.67,478.33 100,475C98.33,471.67 96.83,463.33 97.5,460Z" fill="url(#spk2)"/>
<path d="M87.5,463.75C88.58,461.25 91.92,461.29 94,461C96.08,460.71 98.83,460.5 100,462C101.17,463.5 101,467.33 101,470C101,472.67 101.33,476.54 100,478C98.67,479.46 95.08,479.08 93,478.75C90.92,478.42 88.42,478.5 87.5,476C86.58,473.5 86.42,466.25 87.5,463.75Z" fill="#4aae4a"/>
<path d="M87.5,463.75C88.58,461.25 91.92,461.29 94,461C96.08,460.71 98.83,460.5 100,462C101.17,463.5 101,467.33 101,470C101,472.67 101.33,476.54 100,478C98.67,479.46 95.08,479.08 93,478.75C90.92,478.42 88.42,478.5 87.5,476C86.58,473.5 86.42,466.25 87.5,463.75Z" fill="url(#spk2)"/>
<path d="M41.5,441C42.17,439.75 44.42,439.67 46,439.5C47.58,439.33 49.83,439.25 51,440C52.17,440.75 52.83,442.5 53,444C53.17,445.5 53.17,448.07 52,449C50.83,449.93 47.67,449.93 46,449.6C44.33,449.27 42.75,448.43 42,447C41.25,445.57 40.83,442.25 41.5,441Z" fill="#4aae4a"/>
<path d="M41.5,441C42.17,439.75 44.42,439.67 46,439.5C47.58,439.33 49.83,439.25 51,440C52.17,440.75 52.83,442.5 53,444C53.17,445.5 53.17,448.07 52,449C50.83,449.93 47.67,449.93 46,449.6C44.33,449.27 42.75,448.43 42,447C41.25,445.57 40.83,442.25 41.5,441Z" fill="url(#spk2)"/>
<path d="M44,456C45.08,455.17 47.83,455.08 50,455C52.17,454.92 55.33,454.67 57,455.5C58.67,456.33 59.83,458.42 60,460C60.17,461.58 59.33,463.87 58,465C56.67,466.13 54,466.8 52,466.8C50,466.8 47.42,466.13 46,465C44.58,463.87 43.83,461.5 43.5,460C43.17,458.5 42.92,456.83 44,456Z" fill="#4aae4a"/>
<path d="M44,456C45.08,455.17 47.83,455.08 50,455C52.17,454.92 55.33,454.67 57,455.5C58.67,456.33 59.83,458.42 60,460C60.17,461.58 59.33,463.87 58,465C56.67,466.13 54,466.8 52,466.8C50,466.8 47.42,466.13 46,465C44.58,463.87 43.83,461.5 43.5,460C43.17,458.5 42.92,456.83 44,456Z" fill="url(#spk2)"/>
<ellipse cx="53.3" cy="472.6" rx="6.2" ry="6.5" fill="#fff"/>
<ellipse cx="53.3" cy="472.6" rx="5" ry="5.3" fill="#1f4fa8"/>
<ellipse cx="40.6" cy="454" rx="3" ry="3.3" fill="#2a6fa8"/>
<rect x="66" y="470" width="2.6" height="9.6" fill="#2a3a8a" />
</g>
<rect x="150.2" y="46.5" width="35.53" height="11.49" fill="#fdf3b8" />
<rect x="185.68" y="46.5" width="35.53" height="11.49" fill="#3b6db3" />
<rect x="221.15" y="46.5" width="35.53" height="11.49" fill="#5e8fc8" />
<rect x="256.62" y="46.5" width="35.53" height="11.49" fill="#7aaad6" />
<rect x="150.2" y="57.94" width="35.53" height="11.49" fill="#e8492f" />
<rect x="185.68" y="57.94" width="35.53" height="11.49" fill="#f2f1d3" />
<rect x="221.15" y="57.94" width="35.53" height="11.49" fill="#f2f1d3" />
<rect x="256.62" y="57.94" width="35.53" height="11.49" fill="#a9cce6" />
<rect x="150.2" y="69.38" width="35.53" height="11.49" fill="#e3432f" />
<rect x="185.68" y="69.38" width="35.53" height="11.49" fill="#fef4b8" />
<rect x="221.15" y="69.38" width="35.53" height="11.49" fill="#5e8fc8" />
<rect x="256.62" y="69.38" width="35.53" height="11.49" fill="#a9cce6" />
<rect x="150.2" y="80.81" width="35.53" height="11.49" fill="#ec5a36" />
<rect x="185.68" y="80.81" width="35.53" height="11.49" fill="#f07a45" />
<rect x="221.15" y="80.81" width="35.53" height="11.49" fill="#b6d6ec" />
<rect x="256.62" y="80.81" width="35.53" height="11.49" fill="#a9cce6" />
<rect x="150.2" y="92.25" width="35.53" height="11.49" fill="#e9533a" />
<rect x="185.68" y="92.25" width="35.53" height="11.49" fill="#ef7848" />
<rect x="221.15" y="92.25" width="35.53" height="11.49" fill="#fee9a0" />
<rect x="256.62" y="92.25" width="35.53" height="11.49" fill="#c3dfef" />
<rect x="150.2" y="103.69" width="35.53" height="11.49" fill="#d92b27" />
<rect x="185.68" y="103.69" width="35.53" height="11.49" fill="#4677bd" />
<rect x="221.15" y="103.69" width="35.53" height="11.49" fill="#5a8bc5" />
<rect x="256.62" y="103.69" width="35.53" height="11.49" fill="#88b5db" />
<rect x="150.2" y="115.12" width="35.53" height="11.49" fill="#d82a28" />
<rect x="185.68" y="115.12" width="35.53" height="11.49" fill="#5083c4" />
<rect x="221.15" y="115.12" width="35.53" height="11.49" fill="#feeba8" />
<rect x="256.62" y="115.12" width="35.53" height="11.49" fill="#9ec5e4" />
<rect x="150.2" y="126.56" width="35.53" height="11.49" fill="#fdf1b5" />
<rect x="185.68" y="126.56" width="35.53" height="11.49" fill="#4a7cc0" />
<rect x="221.15" y="126.56" width="35.53" height="11.49" fill="#fee4a0" />
<rect x="256.62" y="126.56" width="35.53" height="11.49" fill="#c6e0f0" />
<line x1="150.2" y1="46.5" x2="292.1" y2="46.5" stroke="#b9b9b9" stroke-width="0.6"/>
<line x1="150.2" y1="57.94" x2="292.1" y2="57.94" stroke="#b9b9b9" stroke-width="0.6"/>
<line x1="150.2" y1="69.38" x2="292.1" y2="69.38" stroke="#b9b9b9" stroke-width="0.6"/>
<line x1="150.2" y1="80.81" x2="292.1" y2="80.81" stroke="#b9b9b9" stroke-width="0.6"/>
<line x1="150.2" y1="92.25" x2="292.1" y2="92.25" stroke="#b9b9b9" stroke-width="0.6"/>
<line x1="150.2" y1="103.69" x2="292.1" y2="103.69" stroke="#b9b9b9" stroke-width="0.6"/>
<line x1="150.2" y1="115.12" x2="292.1" y2="115.12" stroke="#b9b9b9" stroke-width="0.6"/>
<line x1="150.2" y1="126.56" x2="292.1" y2="126.56" stroke="#b9b9b9" stroke-width="0.6"/>
<line x1="150.2" y1="138" x2="292.1" y2="138" stroke="#b9b9b9" stroke-width="0.6"/>
<line x1="150.2" y1="46.5" x2="150.2" y2="138" stroke="#b9b9b9" stroke-width="0.6"/>
<line x1="185.68" y1="46.5" x2="185.68" y2="138" stroke="#b9b9b9" stroke-width="0.6"/>
<line x1="221.15" y1="46.5" x2="221.15" y2="138" stroke="#b9b9b9" stroke-width="0.6"/>
<line x1="256.62" y1="46.5" x2="256.62" y2="138" stroke="#b9b9b9" stroke-width="0.6"/>
<line x1="292.1" y1="46.5" x2="292.1" y2="138" stroke="#b9b9b9" stroke-width="0.6"/>
<line x1="167.94" y1="29.6" x2="230.02" y2="29.6" stroke="#3c3c3c" stroke-width="0.8"/>
<line x1="167.94" y1="29.6" x2="167.94" y2="46.5" stroke="#3c3c3c" stroke-width="0.8"/>
<line x1="230.02" y1="29.6" x2="230.02" y2="36.3" stroke="#3c3c3c" stroke-width="0.8"/>
<line x1="203.41" y1="36.3" x2="256.62" y2="36.3" stroke="#3c3c3c" stroke-width="0.8"/>
<line x1="203.41" y1="36.3" x2="203.41" y2="46.5" stroke="#3c3c3c" stroke-width="0.8"/>
<line x1="256.62" y1="36.3" x2="256.62" y2="40.6" stroke="#3c3c3c" stroke-width="0.8"/>
<line x1="238.89" y1="40.6" x2="274.36" y2="40.6" stroke="#3c3c3c" stroke-width="0.8"/>
<line x1="238.89" y1="40.6" x2="238.89" y2="46.5" stroke="#3c3c3c" stroke-width="0.8"/>
<line x1="274.36" y1="40.6" x2="274.36" y2="46.5" stroke="#3c3c3c" stroke-width="0.8"/>
<text x="221.5" y="25.2" font-size="8.1" text-anchor="middle" font-weight="normal" fill="#222" stroke="#222" stroke-width="0.1" >TRAP-6</text>
<text x="167.94" y="149.4" font-size="8.6" text-anchor="middle" font-weight="normal" fill="#222" stroke="#222" stroke-width="0.1" >CD42b</text>
<text x="203.41" y="149.4" font-size="8.6" text-anchor="middle" font-weight="normal" fill="#222" stroke="#222" stroke-width="0.1" >PAC-1</text>
<text x="238.89" y="149.4" font-size="8.6" text-anchor="middle" font-weight="normal" fill="#222" stroke="#222" stroke-width="0.1" >CD63</text>
<text x="274.36" y="149.4" font-size="8.6" text-anchor="middle" font-weight="normal" fill="#222" stroke="#222" stroke-width="0.1" >CD31</text>
<text x="295.7" y="55.12" font-size="8" text-anchor="start" font-weight="normal" fill="#222" stroke="#222" stroke-width="0.1" >Pop0</text>
<text x="295.7" y="66.56" font-size="8" text-anchor="start" font-weight="normal" fill="#222" stroke="#222" stroke-width="0.1" >Pop1</text>
<text x="295.7" y="77.99" font-size="8" text-anchor="start" font-weight="normal" fill="#222" stroke="#222" stroke-width="0.1" >Pop2</text>
<text x="295.7" y="89.43" font-size="8" text-anchor="start" font-weight="normal" fill="#222" stroke="#222" stroke-width="0.1" >Pop3</text>
<text x="295.7" y="100.87" font-size="8" text-anchor="start" font-weight="normal" fill="#222" stroke="#222" stroke-width="0.1" >Pop4</text>
<text x="295.7" y="112.31" font-size="8" text-anchor="start" font-weight="normal" fill="#222" stroke="#222" stroke-width="0.1" >Pop5</text>
<text x="295.7" y="123.74" font-size="8" text-anchor="start" font-weight="normal" fill="#222" stroke="#222" stroke-width="0.1" >Pop6</text>
<text x="295.7" y="135.18" font-size="8" text-anchor="start" font-weight="normal" fill="#222" stroke="#222" stroke-width="0.1" >Pop7</text>
<rect x="150.5" y="231" width="35.08" height="11.75" fill="#e8492f" />
<rect x="185.53" y="231" width="35.08" height="11.75" fill="#dc2f28" />
<rect x="220.55" y="231" width="35.08" height="11.75" fill="#fdf3b8" />
<rect x="255.58" y="231" width="35.08" height="11.75" fill="#c6e0f0" />
<rect x="150.5" y="242.7" width="35.08" height="11.75" fill="#ea5536" />
<rect x="185.53" y="242.7" width="35.08" height="11.75" fill="#fde3a0" />
<rect x="220.55" y="242.7" width="35.08" height="11.75" fill="#eff3d8" />
<rect x="255.58" y="242.7" width="35.08" height="11.75" fill="#8fbadc" />
<rect x="150.5" y="254.4" width="35.08" height="11.75" fill="#ec5a38" />
<rect x="185.53" y="254.4" width="35.08" height="11.75" fill="#4c7ec1" />
<rect x="220.55" y="254.4" width="35.08" height="11.75" fill="#fdf0b0" />
<rect x="255.58" y="254.4" width="35.08" height="11.75" fill="#93bddd" />
<rect x="150.5" y="266.1" width="35.08" height="11.75" fill="#fdde9a" />
<rect x="185.53" y="266.1" width="35.08" height="11.75" fill="#3f70b6" />
<rect x="220.55" y="266.1" width="35.08" height="11.75" fill="#5a8bc6" />
<rect x="255.58" y="266.1" width="35.08" height="11.75" fill="#6e9fd0" />
<rect x="150.5" y="277.8" width="35.08" height="11.75" fill="#ea5436" />
<rect x="185.53" y="277.8" width="35.08" height="11.75" fill="#f1f3d8" />
<rect x="220.55" y="277.8" width="35.08" height="11.75" fill="#e6f0f5" />
<rect x="255.58" y="277.8" width="35.08" height="11.75" fill="#93bddd" />
<rect x="150.5" y="289.5" width="35.08" height="11.75" fill="#d8302a" />
<rect x="185.53" y="289.5" width="35.08" height="11.75" fill="#4677bd" />
<rect x="220.55" y="289.5" width="35.08" height="11.75" fill="#4f80c2" />
<rect x="255.58" y="289.5" width="35.08" height="11.75" fill="#8eb9db" />
<rect x="150.5" y="301.2" width="35.08" height="11.75" fill="#eb5838" />
<rect x="185.53" y="301.2" width="35.08" height="11.75" fill="#ee6240" />
<rect x="220.55" y="301.2" width="35.08" height="11.75" fill="#86b3d9" />
<rect x="255.58" y="301.2" width="35.08" height="11.75" fill="#a8cce6" />
<rect x="150.5" y="312.9" width="35.08" height="11.75" fill="#e8472f" />
<rect x="185.53" y="312.9" width="35.08" height="11.75" fill="#fef4b8" />
<rect x="220.55" y="312.9" width="35.08" height="11.75" fill="#5587c6" />
<rect x="255.58" y="312.9" width="35.08" height="11.75" fill="#93bddd" />
<line x1="150.5" y1="231" x2="290.6" y2="231" stroke="#b9b9b9" stroke-width="0.6"/>
<line x1="150.5" y1="242.7" x2="290.6" y2="242.7" stroke="#b9b9b9" stroke-width="0.6"/>
<line x1="150.5" y1="254.4" x2="290.6" y2="254.4" stroke="#b9b9b9" stroke-width="0.6"/>
<line x1="150.5" y1="266.1" x2="290.6" y2="266.1" stroke="#b9b9b9" stroke-width="0.6"/>
<line x1="150.5" y1="277.8" x2="290.6" y2="277.8" stroke="#b9b9b9" stroke-width="0.6"/>
<line x1="150.5" y1="289.5" x2="290.6" y2="289.5" stroke="#b9b9b9" stroke-width="0.6"/>
<line x1="150.5" y1="301.2" x2="290.6" y2="301.2" stroke="#b9b9b9" stroke-width="0.6"/>
<line x1="150.5" y1="312.9" x2="290.6" y2="312.9" stroke="#b9b9b9" stroke-width="0.6"/>
<line x1="150.5" y1="324.6" x2="290.6" y2="324.6" stroke="#b9b9b9" stroke-width="0.6"/>
<line x1="150.5" y1="231" x2="150.5" y2="324.6" stroke="#b9b9b9" stroke-width="0.6"/>
<line x1="185.53" y1="231" x2="185.53" y2="324.6" stroke="#b9b9b9" stroke-width="0.6"/>
<line x1="220.55" y1="231" x2="220.55" y2="324.6" stroke="#b9b9b9" stroke-width="0.6"/>
<line x1="255.58" y1="231" x2="255.58" y2="324.6" stroke="#b9b9b9" stroke-width="0.6"/>
<line x1="290.6" y1="231" x2="290.6" y2="324.6" stroke="#b9b9b9" stroke-width="0.6"/>
<line x1="168.01" y1="213.8" x2="229.31" y2="213.8" stroke="#3c3c3c" stroke-width="0.8"/>
<line x1="168.01" y1="213.8" x2="168.01" y2="231" stroke="#3c3c3c" stroke-width="0.8"/>
<line x1="229.31" y1="213.8" x2="229.31" y2="221.2" stroke="#3c3c3c" stroke-width="0.8"/>
<line x1="203.04" y1="221.2" x2="255.58" y2="221.2" stroke="#3c3c3c" stroke-width="0.8"/>
<line x1="203.04" y1="221.2" x2="203.04" y2="231" stroke="#3c3c3c" stroke-width="0.8"/>
<line x1="255.58" y1="221.2" x2="255.58" y2="226.5" stroke="#3c3c3c" stroke-width="0.8"/>
<line x1="238.06" y1="226.5" x2="273.09" y2="226.5" stroke="#3c3c3c" stroke-width="0.8"/>
<line x1="238.06" y1="226.5" x2="238.06" y2="231" stroke="#3c3c3c" stroke-width="0.8"/>
<line x1="273.09" y1="226.5" x2="273.09" y2="231" stroke="#3c3c3c" stroke-width="0.8"/>
<text x="221" y="209.2" font-size="8.1" text-anchor="middle" font-weight="normal" fill="#222" stroke="#222" stroke-width="0.1" >ADP</text>
<text x="168.01" y="335.6" font-size="8.6" text-anchor="middle" font-weight="normal" fill="#222" stroke="#222" stroke-width="0.1" >CD42b</text>
<text x="203.04" y="335.6" font-size="8.6" text-anchor="middle" font-weight="normal" fill="#222" stroke="#222" stroke-width="0.1" >PAC-1</text>
<text x="238.06" y="335.6" font-size="8.6" text-anchor="middle" font-weight="normal" fill="#222" stroke="#222" stroke-width="0.1" >CD63</text>
<text x="273.09" y="335.6" font-size="8.6" text-anchor="middle" font-weight="normal" fill="#222" stroke="#222" stroke-width="0.1" >CD31</text>
<text x="294.4" y="239.75" font-size="8" text-anchor="start" font-weight="normal" fill="#222" stroke="#222" stroke-width="0.1" >Pop0</text>
<text x="294.4" y="251.45" font-size="8" text-anchor="start" font-weight="normal" fill="#222" stroke="#222" stroke-width="0.1" >Pop1</text>
<text x="294.4" y="263.15" font-size="8" text-anchor="start" font-weight="normal" fill="#222" stroke="#222" stroke-width="0.1" >Pop2</text>
<text x="294.4" y="274.85" font-size="8" text-anchor="start" font-weight="normal" fill="#222" stroke="#222" stroke-width="0.1" >Pop3</text>
<text x="294.4" y="286.55" font-size="8" text-anchor="start" font-weight="normal" fill="#222" stroke="#222" stroke-width="0.1" >Pop4</text>
<text x="294.4" y="298.25" font-size="8" text-anchor="start" font-weight="normal" fill="#222" stroke="#222" stroke-width="0.1" >Pop5</text>
<text x="294.4" y="309.95" font-size="8" text-anchor="start" font-weight="normal" fill="#222" stroke="#222" stroke-width="0.1" >Pop6</text>
<text x="294.4" y="321.65" font-size="8" text-anchor="start" font-weight="normal" fill="#222" stroke="#222" stroke-width="0.1" >Pop7</text>
<rect x="150.8" y="419" width="35.07" height="11.81" fill="#fcefb4" />
<rect x="185.82" y="419" width="35.07" height="11.81" fill="#3d6db4" />
<rect x="220.85" y="419" width="35.07" height="11.81" fill="#5c8dc8" />
<rect x="255.88" y="419" width="35.07" height="11.81" fill="#77a6d3" />
<rect x="150.8" y="430.76" width="35.07" height="11.81" fill="#f7b275" />
<rect x="185.82" y="430.76" width="35.07" height="11.81" fill="#4576bc" />
<rect x="220.85" y="430.76" width="35.07" height="11.81" fill="#fef2b6" />
<rect x="255.88" y="430.76" width="35.07" height="11.81" fill="#8ab6da" />
<rect x="150.8" y="442.52" width="35.07" height="11.81" fill="#da2a27" />
<rect x="185.82" y="442.52" width="35.07" height="11.81" fill="#a3c7e4" />
<rect x="220.85" y="442.52" width="35.07" height="11.81" fill="#fef2b6" />
<rect x="255.88" y="442.52" width="35.07" height="11.81" fill="#8ab6da" />
<rect x="150.8" y="454.29" width="35.07" height="11.81" fill="#de3b2c" />
<rect x="185.82" y="454.29" width="35.07" height="11.81" fill="#fde8a4" />
<rect x="220.85" y="454.29" width="35.07" height="11.81" fill="#fef2b6" />
<rect x="255.88" y="454.29" width="35.07" height="11.81" fill="#9ec4e3" />
<rect x="150.8" y="466.05" width="35.07" height="11.81" fill="#d92e28" />
<rect x="185.82" y="466.05" width="35.07" height="11.81" fill="#da2e28" />
<rect x="220.85" y="466.05" width="35.07" height="11.81" fill="#feeda8" />
<rect x="255.88" y="466.05" width="35.07" height="11.81" fill="#c5dfef" />
<rect x="150.8" y="477.81" width="35.07" height="11.81" fill="#d92a27" />
<rect x="185.82" y="477.81" width="35.07" height="11.81" fill="#4677bd" />
<rect x="220.85" y="477.81" width="35.07" height="11.81" fill="#5a8ac5" />
<rect x="255.88" y="477.81" width="35.07" height="11.81" fill="#8db8db" />
<rect x="150.8" y="489.58" width="35.07" height="11.81" fill="#da2d28" />
<rect x="185.82" y="489.58" width="35.07" height="11.81" fill="#f4f1cf" />
<rect x="220.85" y="489.58" width="35.07" height="11.81" fill="#5a8ac5" />
<rect x="255.88" y="489.58" width="35.07" height="11.81" fill="#9cc3e2" />
<rect x="150.8" y="501.34" width="35.07" height="11.81" fill="#e5492f" />
<rect x="185.82" y="501.34" width="35.07" height="11.81" fill="#ef7a4c" />
<rect x="220.85" y="501.34" width="35.07" height="11.81" fill="#93bddd" />
<rect x="255.88" y="501.34" width="35.07" height="11.81" fill="#a8cbe5" />
<line x1="150.8" y1="419" x2="290.9" y2="419" stroke="#b9b9b9" stroke-width="0.6"/>
<line x1="150.8" y1="430.76" x2="290.9" y2="430.76" stroke="#b9b9b9" stroke-width="0.6"/>
<line x1="150.8" y1="442.52" x2="290.9" y2="442.52" stroke="#b9b9b9" stroke-width="0.6"/>
<line x1="150.8" y1="454.29" x2="290.9" y2="454.29" stroke="#b9b9b9" stroke-width="0.6"/>
<line x1="150.8" y1="466.05" x2="290.9" y2="466.05" stroke="#b9b9b9" stroke-width="0.6"/>
<line x1="150.8" y1="477.81" x2="290.9" y2="477.81" stroke="#b9b9b9" stroke-width="0.6"/>
<line x1="150.8" y1="489.58" x2="290.9" y2="489.58" stroke="#b9b9b9" stroke-width="0.6"/>
<line x1="150.8" y1="501.34" x2="290.9" y2="501.34" stroke="#b9b9b9" stroke-width="0.6"/>
<line x1="150.8" y1="513.1" x2="290.9" y2="513.1" stroke="#b9b9b9" stroke-width="0.6"/>
<line x1="150.8" y1="419" x2="150.8" y2="513.1" stroke="#b9b9b9" stroke-width="0.6"/>
<line x1="185.82" y1="419" x2="185.82" y2="513.1" stroke="#b9b9b9" stroke-width="0.6"/>
<line x1="220.85" y1="419" x2="220.85" y2="513.1" stroke="#b9b9b9" stroke-width="0.6"/>
<line x1="255.88" y1="419" x2="255.88" y2="513.1" stroke="#b9b9b9" stroke-width="0.6"/>
<line x1="290.9" y1="419" x2="290.9" y2="513.1" stroke="#b9b9b9" stroke-width="0.6"/>
<line x1="168.31" y1="402.3" x2="229.61" y2="402.3" stroke="#3c3c3c" stroke-width="0.8"/>
<line x1="168.31" y1="402.3" x2="168.31" y2="419" stroke="#3c3c3c" stroke-width="0.8"/>
<line x1="229.61" y1="402.3" x2="229.61" y2="410.2" stroke="#3c3c3c" stroke-width="0.8"/>
<line x1="203.34" y1="410.2" x2="255.88" y2="410.2" stroke="#3c3c3c" stroke-width="0.8"/>
<line x1="203.34" y1="410.2" x2="203.34" y2="419" stroke="#3c3c3c" stroke-width="0.8"/>
<line x1="255.88" y1="410.2" x2="255.88" y2="413.8" stroke="#3c3c3c" stroke-width="0.8"/>
<line x1="238.36" y1="413.8" x2="273.39" y2="413.8" stroke="#3c3c3c" stroke-width="0.8"/>
<line x1="238.36" y1="413.8" x2="238.36" y2="419" stroke="#3c3c3c" stroke-width="0.8"/>
<line x1="273.39" y1="413.8" x2="273.39" y2="419" stroke="#3c3c3c" stroke-width="0.8"/>
<text x="221" y="397.2" font-size="8.1" text-anchor="middle" font-weight="normal" fill="#222" stroke="#222" stroke-width="0.1" >U46619</text>
<text x="168.31" y="524.5" font-size="8.6" text-anchor="middle" font-weight="normal" fill="#222" stroke="#222" stroke-width="0.1" >CD42b</text>
<text x="203.34" y="524.5" font-size="8.6" text-anchor="middle" font-weight="normal" fill="#222" stroke="#222" stroke-width="0.1" >PAC-1</text>
<text x="238.36" y="524.5" font-size="8.6" text-anchor="middle" font-weight="normal" fill="#222" stroke="#222" stroke-width="0.1" >CD63</text>
<text x="273.39" y="524.5" font-size="8.6" text-anchor="middle" font-weight="normal" fill="#222" stroke="#222" stroke-width="0.1" >CD31</text>
<text x="294.6" y="427.78" font-size="8" text-anchor="start" font-weight="normal" fill="#222" stroke="#222" stroke-width="0.1" >Pop0</text>
<text x="294.6" y="439.54" font-size="8" text-anchor="start" font-weight="normal" fill="#222" stroke="#222" stroke-width="0.1" >Pop1</text>
<text x="294.6" y="451.31" font-size="8" text-anchor="start" font-weight="normal" fill="#222" stroke="#222" stroke-width="0.1" >Pop2</text>
<text x="294.6" y="463.07" font-size="8" text-anchor="start" font-weight="normal" fill="#222" stroke="#222" stroke-width="0.1" >Pop3</text>
<text x="294.6" y="474.83" font-size="8" text-anchor="start" font-weight="normal" fill="#222" stroke="#222" stroke-width="0.1" >Pop4</text>
<text x="294.6" y="486.59" font-size="8" text-anchor="start" font-weight="normal" fill="#222" stroke="#222" stroke-width="0.1" >Pop5</text>
<text x="294.6" y="498.36" font-size="8" text-anchor="start" font-weight="normal" fill="#222" stroke="#222" stroke-width="0.1" >Pop6</text>
<text x="294.6" y="510.12" font-size="8" text-anchor="start" font-weight="normal" fill="#222" stroke="#222" stroke-width="0.1" >Pop7</text>
<rect x="378.45" y="127.88" width="10.5" height="9.37" fill="#f08c18" />
<rect x="378.45" y="64.14" width="10.5" height="63.89" fill="#fde80e" />
<rect x="378.45" y="63.37" width="10.5" height="0.92" fill="#2f9c48" />
<rect x="378.45" y="62.6" width="10.5" height="0.92" fill="#1b8a5c" />
<rect x="378.45" y="60.3" width="10.5" height="2.45" fill="#2b2d80" />
<line x1="383.7" y1="60.3" x2="383.7" y2="54.92" stroke="#1a1a1a" stroke-width="0.9"/>
<line x1="381.2" y1="54.92" x2="386.2" y2="54.92" stroke="#1a1a1a" stroke-width="1"/>
<line x1="383.7" y1="127.88" x2="383.7" y2="117.9" stroke="#1a1a1a" stroke-width="0.9"/>
<line x1="381.2" y1="117.9" x2="386.2" y2="117.9" stroke="#1a1a1a" stroke-width="1"/>
<line x1="381.2" y1="62.6" x2="386.2" y2="62.6" stroke="#1a1a1a" stroke-width="1"/>
<line x1="381.2" y1="63.37" x2="386.2" y2="63.37" stroke="#1a1a1a" stroke-width="1"/>
<rect x="394.25" y="126.35" width="10.5" height="10.9" fill="#f08c18" />
<rect x="394.25" y="61.84" width="10.5" height="64.66" fill="#fde80e" />
<rect x="394.25" y="61.07" width="10.5" height="0.92" fill="#1b8a5c" />
<rect x="394.25" y="60.3" width="10.5" height="0.92" fill="#2b2d80" />
<line x1="399.5" y1="60.3" x2="399.5" y2="52.62" stroke="#1a1a1a" stroke-width="0.9"/>
<line x1="397" y1="52.62" x2="402" y2="52.62" stroke="#1a1a1a" stroke-width="1"/>
<line x1="399.5" y1="126.35" x2="399.5" y2="115.6" stroke="#1a1a1a" stroke-width="0.9"/>
<line x1="397" y1="115.6" x2="402" y2="115.6" stroke="#1a1a1a" stroke-width="1"/>
<line x1="397" y1="61.84" x2="402" y2="61.84" stroke="#1a1a1a" stroke-width="1"/>
<rect x="410.15" y="134.03" width="10.5" height="3.22" fill="#f08c18" />
<rect x="410.15" y="61.84" width="10.5" height="72.34" fill="#fde80e" />
<rect x="410.15" y="61.07" width="10.5" height="0.92" fill="#1b8a5c" />
<rect x="410.15" y="60.3" width="10.5" height="0.92" fill="#2b2d80" />
<line x1="415.4" y1="60.3" x2="415.4" y2="58.76" stroke="#1a1a1a" stroke-width="0.9"/>
<line x1="412.9" y1="58.76" x2="417.9" y2="58.76" stroke="#1a1a1a" stroke-width="1"/>
<line x1="415.4" y1="134.03" x2="415.4" y2="131.72" stroke="#1a1a1a" stroke-width="0.9"/>
<line x1="412.9" y1="131.72" x2="417.9" y2="131.72" stroke="#1a1a1a" stroke-width="1"/>
<rect x="425.95" y="128.65" width="10.5" height="8.6" fill="#f08c18" />
<rect x="425.95" y="72.59" width="10.5" height="56.21" fill="#fde80e" />
<rect x="425.95" y="70.28" width="10.5" height="2.45" fill="#2f9c48" />
<rect x="425.95" y="60.3" width="10.5" height="10.13" fill="#1b8a5c" />
<line x1="431.2" y1="60.3" x2="431.2" y2="51.08" stroke="#1a1a1a" stroke-width="0.9"/>
<line x1="428.7" y1="51.08" x2="433.7" y2="51.08" stroke="#1a1a1a" stroke-width="1"/>
<line x1="431.2" y1="128.65" x2="431.2" y2="122.51" stroke="#1a1a1a" stroke-width="0.9"/>
<line x1="428.7" y1="122.51" x2="433.7" y2="122.51" stroke="#1a1a1a" stroke-width="1"/>
<line x1="428.7" y1="67.21" x2="433.7" y2="67.21" stroke="#1a1a1a" stroke-width="1"/>
<line x1="428.7" y1="71.05" x2="433.7" y2="71.05" stroke="#1a1a1a" stroke-width="1"/>
<line x1="428.7" y1="72.59" x2="433.7" y2="72.59" stroke="#1a1a1a" stroke-width="1"/>
<rect x="441.85" y="130.19" width="10.5" height="7.06" fill="#f08c18" />
<rect x="441.85" y="100.24" width="10.5" height="30.1" fill="#fde80e" />
<rect x="441.85" y="87.18" width="10.5" height="13.21" fill="#b5ca2a" />
<rect x="441.85" y="75.66" width="10.5" height="11.67" fill="#46a845" />
<rect x="441.85" y="60.3" width="10.5" height="15.51" fill="#1b8a5c" />
<line x1="447.1" y1="60.3" x2="447.1" y2="52.62" stroke="#1a1a1a" stroke-width="0.9"/>
<line x1="444.6" y1="52.62" x2="449.6" y2="52.62" stroke="#1a1a1a" stroke-width="1"/>
<line x1="447.1" y1="130.19" x2="447.1" y2="125.58" stroke="#1a1a1a" stroke-width="0.9"/>
<line x1="444.6" y1="125.58" x2="449.6" y2="125.58" stroke="#1a1a1a" stroke-width="1"/>
<line x1="447.1" y1="100.24" x2="447.1" y2="67.98" stroke="#1a1a1a" stroke-width="0.9"/>
<line x1="444.6" y1="67.98" x2="449.6" y2="67.98" stroke="#1a1a1a" stroke-width="1"/>
<line x1="444.6" y1="69.52" x2="449.6" y2="69.52" stroke="#1a1a1a" stroke-width="1"/>
<line x1="444.6" y1="71.82" x2="449.6" y2="71.82" stroke="#1a1a1a" stroke-width="1"/>
<line x1="444.6" y1="77.2" x2="449.6" y2="77.2" stroke="#1a1a1a" stroke-width="1"/>
<line x1="444.6" y1="78.73" x2="449.6" y2="78.73" stroke="#1a1a1a" stroke-width="1"/>
<rect x="457.65" y="134.8" width="10.5" height="2.45" fill="#f08c18" />
<rect x="457.65" y="119.44" width="10.5" height="15.51" fill="#fde80e" />
<rect x="457.65" y="102.54" width="10.5" height="17.05" fill="#b5ca2a" />
<rect x="457.65" y="77.96" width="10.5" height="24.73" fill="#46a845" />
<rect x="457.65" y="71.05" width="10.5" height="7.06" fill="#2f9c48" />
<rect x="457.65" y="60.3" width="10.5" height="10.9" fill="#1b8a5c" />
<line x1="462.9" y1="60.3" x2="462.9" y2="54.92" stroke="#1a1a1a" stroke-width="0.9"/>
<line x1="460.4" y1="54.92" x2="465.4" y2="54.92" stroke="#1a1a1a" stroke-width="1"/>
<line x1="462.9" y1="90.25" x2="462.9" y2="70.28" stroke="#1a1a1a" stroke-width="0.9"/>
<line x1="460.4" y1="70.28" x2="465.4" y2="70.28" stroke="#1a1a1a" stroke-width="1"/>
<line x1="462.9" y1="134.8" x2="462.9" y2="131.72" stroke="#1a1a1a" stroke-width="0.9"/>
<line x1="460.4" y1="131.72" x2="465.4" y2="131.72" stroke="#1a1a1a" stroke-width="1"/>
<line x1="460.4" y1="74.12" x2="465.4" y2="74.12" stroke="#1a1a1a" stroke-width="1"/>
<line x1="460.4" y1="100.24" x2="465.4" y2="100.24" stroke="#1a1a1a" stroke-width="1"/>
<line x1="460.4" y1="116.36" x2="465.4" y2="116.36" stroke="#1a1a1a" stroke-width="1"/>
<line x1="373.6" y1="37.1" x2="373.6" y2="137.8" stroke="#1a1a1a" stroke-width="1.3"/>
<line x1="373" y1="137.3" x2="473.7" y2="137.3" stroke="#1a1a1a" stroke-width="1.5"/>
<line x1="370" y1="137.1" x2="373.6" y2="137.1" stroke="#1a1a1a" stroke-width="1"/>
<text x="367" y="140.7" font-size="8.3" text-anchor="end" font-weight="normal" fill="#222" stroke="#222" stroke-width="0.1" >0</text>
<line x1="370" y1="98.7" x2="373.6" y2="98.7" stroke="#1a1a1a" stroke-width="1"/>
<text x="367" y="102.3" font-size="8.3" text-anchor="end" font-weight="normal" fill="#222" stroke="#222" stroke-width="0.1" >50</text>
<line x1="370" y1="60.3" x2="373.6" y2="60.3" stroke="#1a1a1a" stroke-width="1"/>
<text x="367" y="63.9" font-size="8.3" text-anchor="end" font-weight="normal" fill="#222" stroke="#222" stroke-width="0.1" >100</text>
<line x1="383.7" y1="137.1" x2="383.7" y2="140.3" stroke="#1a1a1a" stroke-width="1"/>
<text x="0" y="0" font-size="8.2" text-anchor="end" fill="#222" stroke="#222" stroke-width="0.12" transform="translate(388 146.3) rotate(-45)">&lt;32</text>
<line x1="399.5" y1="137.1" x2="399.5" y2="140.3" stroke="#1a1a1a" stroke-width="1"/>
<text x="0" y="0" font-size="8.2" text-anchor="end" fill="#222" stroke="#222" stroke-width="0.12" transform="translate(403.8 146.3) rotate(-45)">32-36</text>
<line x1="415.4" y1="137.1" x2="415.4" y2="140.3" stroke="#1a1a1a" stroke-width="1"/>
<text x="0" y="0" font-size="8.2" text-anchor="end" fill="#222" stroke="#222" stroke-width="0.12" transform="translate(419.7 146.3) rotate(-45)">t</text>
<line x1="431.2" y1="137.1" x2="431.2" y2="140.3" stroke="#1a1a1a" stroke-width="1"/>
<text x="0" y="0" font-size="8.2" text-anchor="end" fill="#222" stroke="#222" stroke-width="0.12" transform="translate(435.5 146.3) rotate(-45)">28d-2a</text>
<line x1="447.1" y1="137.1" x2="447.1" y2="140.3" stroke="#1a1a1a" stroke-width="1"/>
<text x="0" y="0" font-size="8.2" text-anchor="end" fill="#222" stroke="#222" stroke-width="0.12" transform="translate(451.4 146.3) rotate(-45)">2-13a</text>
<line x1="462.9" y1="137.1" x2="462.9" y2="140.3" stroke="#1a1a1a" stroke-width="1"/>
<text x="0" y="0" font-size="8.2" text-anchor="end" fill="#222" stroke="#222" stroke-width="0.12" transform="translate(467.2 146.3) rotate(-45)">&gt;13a</text>
<text x="0" y="0" font-size="8.2" text-anchor="middle" fill="#222" stroke="#222" stroke-width="0.12" transform="translate(347.3 87.5) rotate(-90) scale(0.83 1)">PLTs in respective population [%]</text>
<rect x="484.6" y="41.2" width="6.2" height="6" fill="#2b2d80" />
<text x="494" y="47.1" font-size="8.1" text-anchor="start" font-weight="normal" fill="#222" stroke="#222" stroke-width="0.1" >Pop0</text>
<rect x="484.6" y="53.59" width="6.2" height="6" fill="#1b8a5c" />
<text x="494" y="59.49" font-size="8.1" text-anchor="start" font-weight="normal" fill="#222" stroke="#222" stroke-width="0.1" >Pop1</text>
<rect x="484.6" y="65.98" width="6.2" height="6" fill="#2f9c48" />
<text x="494" y="71.88" font-size="8.1" text-anchor="start" font-weight="normal" fill="#222" stroke="#222" stroke-width="0.1" >Pop2</text>
<rect x="484.6" y="78.37" width="6.2" height="6" fill="#46a845" />
<text x="494" y="84.27" font-size="8.1" text-anchor="start" font-weight="normal" fill="#222" stroke="#222" stroke-width="0.1" >Pop3</text>
<rect x="484.6" y="90.76" width="6.2" height="6" fill="#b5ca2a" />
<text x="494" y="96.66" font-size="8.1" text-anchor="start" font-weight="normal" fill="#222" stroke="#222" stroke-width="0.1" >Pop4</text>
<rect x="484.6" y="103.15" width="6.2" height="6" fill="#fde80e" />
<text x="494" y="109.05" font-size="8.1" text-anchor="start" font-weight="normal" fill="#222" stroke="#222" stroke-width="0.1" >Pop5</text>
<rect x="484.6" y="115.54" width="6.2" height="6" fill="#f08c18" />
<text x="494" y="121.44" font-size="8.1" text-anchor="start" font-weight="normal" fill="#222" stroke="#222" stroke-width="0.1" >Pop6</text>
<rect x="484.6" y="127.93" width="6.2" height="6" fill="#e5321c" />
<text x="494" y="133.83" font-size="8.1" text-anchor="start" font-weight="normal" fill="#222" stroke="#222" stroke-width="0.1" >Pop7</text>
<rect x="378.45" y="318.32" width="10.5" height="7.83" fill="#e5321c" />
<rect x="378.45" y="314.48" width="10.5" height="3.99" fill="#f08c18" />
<rect x="378.45" y="256.11" width="10.5" height="58.52" fill="#fde80e" />
<rect x="378.45" y="253.04" width="10.5" height="3.22" fill="#46a845" />
<rect x="378.45" y="249.97" width="10.5" height="3.22" fill="#1b8a5c" />
<rect x="378.45" y="249.2" width="10.5" height="0.92" fill="#2b2d80" />
<line x1="383.7" y1="249.2" x2="383.7" y2="237.68" stroke="#1a1a1a" stroke-width="0.9"/>
<line x1="381.2" y1="237.68" x2="386.2" y2="237.68" stroke="#1a1a1a" stroke-width="1"/>
<line x1="383.7" y1="314.48" x2="383.7" y2="306.8" stroke="#1a1a1a" stroke-width="0.9"/>
<line x1="381.2" y1="306.8" x2="386.2" y2="306.8" stroke="#1a1a1a" stroke-width="1"/>
<line x1="381.2" y1="252.27" x2="386.2" y2="252.27" stroke="#1a1a1a" stroke-width="1"/>
<line x1="381.2" y1="309.1" x2="386.2" y2="309.1" stroke="#1a1a1a" stroke-width="1"/>
<rect x="394.25" y="323.7" width="10.5" height="2.45" fill="#e5321c" />
<rect x="394.25" y="321.39" width="10.5" height="2.45" fill="#f08c18" />
<rect x="394.25" y="259.18" width="10.5" height="62.36" fill="#fde80e" />
<rect x="394.25" y="255.34" width="10.5" height="3.99" fill="#2f9c48" />
<rect x="394.25" y="250.74" width="10.5" height="4.76" fill="#1b8a5c" />
<rect x="394.25" y="249.2" width="10.5" height="1.69" fill="#2b2d80" />
<line x1="399.5" y1="249.2" x2="399.5" y2="246.13" stroke="#1a1a1a" stroke-width="0.9"/>
<line x1="397" y1="246.13" x2="402" y2="246.13" stroke="#1a1a1a" stroke-width="1"/>
<line x1="399.5" y1="321.39" x2="399.5" y2="316.78" stroke="#1a1a1a" stroke-width="0.9"/>
<line x1="397" y1="316.78" x2="402" y2="316.78" stroke="#1a1a1a" stroke-width="1"/>
<line x1="397" y1="256.88" x2="402" y2="256.88" stroke="#1a1a1a" stroke-width="1"/>
<line x1="397" y1="258.42" x2="402" y2="258.42" stroke="#1a1a1a" stroke-width="1"/>
<line x1="397" y1="252.27" x2="402" y2="252.27" stroke="#1a1a1a" stroke-width="1"/>
<rect x="410.15" y="312.18" width="10.5" height="13.97" fill="#e5321c" />
<rect x="410.15" y="306.8" width="10.5" height="5.53" fill="#f08c18" />
<rect x="410.15" y="260.72" width="10.5" height="46.23" fill="#fde80e" />
<rect x="410.15" y="258.42" width="10.5" height="2.45" fill="#b5ca2a" />
<rect x="410.15" y="255.34" width="10.5" height="3.22" fill="#2f9c48" />
<rect x="410.15" y="251.5" width="10.5" height="3.99" fill="#1b8a5c" />
<rect x="410.15" y="249.2" width="10.5" height="2.45" fill="#2b2d80" />
<line x1="415.4" y1="249.2" x2="415.4" y2="245.36" stroke="#1a1a1a" stroke-width="0.9"/>
<line x1="412.9" y1="245.36" x2="417.9" y2="245.36" stroke="#1a1a1a" stroke-width="1"/>
<line x1="415.4" y1="306.8" x2="415.4" y2="300.66" stroke="#1a1a1a" stroke-width="0.9"/>
<line x1="412.9" y1="300.66" x2="417.9" y2="300.66" stroke="#1a1a1a" stroke-width="1"/>
<line x1="412.9" y1="258.42" x2="417.9" y2="258.42" stroke="#1a1a1a" stroke-width="1"/>
<line x1="412.9" y1="253.04" x2="417.9" y2="253.04" stroke="#1a1a1a" stroke-width="1"/>
<line x1="412.9" y1="302.96" x2="417.9" y2="302.96" stroke="#1a1a1a" stroke-width="1"/>
<rect x="425.95" y="310.64" width="10.5" height="15.51" fill="#e5321c" />
<rect x="425.95" y="301.42" width="10.5" height="9.37" fill="#f08c18" />
<rect x="425.95" y="260.72" width="10.5" height="40.85" fill="#fde80e" />
<rect x="425.95" y="258.42" width="10.5" height="2.45" fill="#b5ca2a" />
<rect x="425.95" y="255.34" width="10.5" height="3.22" fill="#2f9c48" />
<rect x="425.95" y="252.27" width="10.5" height="3.22" fill="#1b8a5c" />
<rect x="425.95" y="249.2" width="10.5" height="3.22" fill="#2b2d80" />
<line x1="431.2" y1="249.2" x2="431.2" y2="236.91" stroke="#1a1a1a" stroke-width="0.9"/>
<line x1="428.7" y1="236.91" x2="433.7" y2="236.91" stroke="#1a1a1a" stroke-width="1"/>
<line x1="431.2" y1="301.42" x2="431.2" y2="293.74" stroke="#1a1a1a" stroke-width="0.9"/>
<line x1="428.7" y1="293.74" x2="433.7" y2="293.74" stroke="#1a1a1a" stroke-width="1"/>
<line x1="428.7" y1="259.18" x2="433.7" y2="259.18" stroke="#1a1a1a" stroke-width="1"/>
<line x1="428.7" y1="255.34" x2="433.7" y2="255.34" stroke="#1a1a1a" stroke-width="1"/>
<line x1="428.7" y1="243.82" x2="433.7" y2="243.82" stroke="#1a1a1a" stroke-width="1"/>
<rect x="441.85" y="307.57" width="10.5" height="18.58" fill="#e5321c" />
<rect x="441.85" y="287.6" width="10.5" height="20.12" fill="#f08c18" />
<rect x="441.85" y="267.63" width="10.5" height="20.12" fill="#fde80e" />
<rect x="441.85" y="265.33" width="10.5" height="2.45" fill="#b5ca2a" />
<rect x="441.85" y="263.02" width="10.5" height="2.45" fill="#2f9c48" />
<rect x="441.85" y="258.42" width="10.5" height="4.76" fill="#1b8a5c" />
<rect x="441.85" y="249.2" width="10.5" height="9.37" fill="#2b2d80" />
<line x1="447.1" y1="249.2" x2="447.1" y2="245.36" stroke="#1a1a1a" stroke-width="0.9"/>
<line x1="444.6" y1="245.36" x2="449.6" y2="245.36" stroke="#1a1a1a" stroke-width="1"/>
<line x1="447.1" y1="287.6" x2="447.1" y2="275.31" stroke="#1a1a1a" stroke-width="0.9"/>
<line x1="444.6" y1="275.31" x2="449.6" y2="275.31" stroke="#1a1a1a" stroke-width="1"/>
<line x1="447.1" y1="307.57" x2="447.1" y2="302.96" stroke="#1a1a1a" stroke-width="0.9"/>
<line x1="444.6" y1="302.96" x2="449.6" y2="302.96" stroke="#1a1a1a" stroke-width="1"/>
<line x1="444.6" y1="266.86" x2="449.6" y2="266.86" stroke="#1a1a1a" stroke-width="1"/>
<line x1="444.6" y1="264.56" x2="449.6" y2="264.56" stroke="#1a1a1a" stroke-width="1"/>
<line x1="444.6" y1="261.49" x2="449.6" y2="261.49" stroke="#1a1a1a" stroke-width="1"/>
<line x1="444.6" y1="259.95" x2="449.6" y2="259.95" stroke="#1a1a1a" stroke-width="1"/>
<rect x="457.65" y="307.57" width="10.5" height="18.58" fill="#e5321c" />
<rect x="457.65" y="273.78" width="10.5" height="33.94" fill="#f08c18" />
<rect x="457.65" y="265.33" width="10.5" height="8.6" fill="#fde80e" />
<rect x="457.65" y="263.02" width="10.5" height="2.45" fill="#b5ca2a" />
<rect x="457.65" y="259.95" width="10.5" height="3.22" fill="#1b8a5c" />
<rect x="457.65" y="249.2" width="10.5" height="10.9" fill="#2b2d80" />
<line x1="462.9" y1="249.2" x2="462.9" y2="243.06" stroke="#1a1a1a" stroke-width="0.9"/>
<line x1="460.4" y1="243.06" x2="465.4" y2="243.06" stroke="#1a1a1a" stroke-width="1"/>
<line x1="462.9" y1="273.78" x2="462.9" y2="259.95" stroke="#1a1a1a" stroke-width="0.9"/>
<line x1="460.4" y1="259.95" x2="465.4" y2="259.95" stroke="#1a1a1a" stroke-width="1"/>
<line x1="462.9" y1="307.57" x2="462.9" y2="303.73" stroke="#1a1a1a" stroke-width="0.9"/>
<line x1="460.4" y1="303.73" x2="465.4" y2="303.73" stroke="#1a1a1a" stroke-width="1"/>
<line x1="460.4" y1="261.49" x2="465.4" y2="261.49" stroke="#1a1a1a" stroke-width="1"/>
<line x1="373.6" y1="226.3" x2="373.6" y2="326.7" stroke="#1a1a1a" stroke-width="1.3"/>
<line x1="373" y1="326.2" x2="473.7" y2="326.2" stroke="#1a1a1a" stroke-width="1.5"/>
<line x1="370" y1="326" x2="373.6" y2="326" stroke="#1a1a1a" stroke-width="1"/>
<text x="367" y="329.6" font-size="8.3" text-anchor="end" font-weight="normal" fill="#222" stroke="#222" stroke-width="0.1" >0</text>
<line x1="370" y1="287.6" x2="373.6" y2="287.6" stroke="#1a1a1a" stroke-width="1"/>
<text x="367" y="291.2" font-size="8.3" text-anchor="end" font-weight="normal" fill="#222" stroke="#222" stroke-width="0.1" >50</text>
<line x1="370" y1="249.2" x2="373.6" y2="249.2" stroke="#1a1a1a" stroke-width="1"/>
<text x="367" y="252.8" font-size="8.3" text-anchor="end" font-weight="normal" fill="#222" stroke="#222" stroke-width="0.1" >100</text>
<line x1="383.7" y1="326" x2="383.7" y2="329.2" stroke="#1a1a1a" stroke-width="1"/>
<text x="0" y="0" font-size="8.2" text-anchor="end" fill="#222" stroke="#222" stroke-width="0.12" transform="translate(388 335.2) rotate(-45)">&lt;32</text>
<line x1="399.5" y1="326" x2="399.5" y2="329.2" stroke="#1a1a1a" stroke-width="1"/>
<text x="0" y="0" font-size="8.2" text-anchor="end" fill="#222" stroke="#222" stroke-width="0.12" transform="translate(403.8 335.2) rotate(-45)">32-36</text>
<line x1="415.4" y1="326" x2="415.4" y2="329.2" stroke="#1a1a1a" stroke-width="1"/>
<text x="0" y="0" font-size="8.2" text-anchor="end" fill="#222" stroke="#222" stroke-width="0.12" transform="translate(419.7 335.2) rotate(-45)">t</text>
<line x1="431.2" y1="326" x2="431.2" y2="329.2" stroke="#1a1a1a" stroke-width="1"/>
<text x="0" y="0" font-size="8.2" text-anchor="end" fill="#222" stroke="#222" stroke-width="0.12" transform="translate(435.5 335.2) rotate(-45)">28d-2a</text>
<line x1="447.1" y1="326" x2="447.1" y2="329.2" stroke="#1a1a1a" stroke-width="1"/>
<text x="0" y="0" font-size="8.2" text-anchor="end" fill="#222" stroke="#222" stroke-width="0.12" transform="translate(451.4 335.2) rotate(-45)">2-13a</text>
<line x1="462.9" y1="326" x2="462.9" y2="329.2" stroke="#1a1a1a" stroke-width="1"/>
<text x="0" y="0" font-size="8.2" text-anchor="end" fill="#222" stroke="#222" stroke-width="0.12" transform="translate(467.2 335.2) rotate(-45)">&gt;13a</text>
<text x="0" y="0" font-size="8.2" text-anchor="middle" fill="#222" stroke="#222" stroke-width="0.12" transform="translate(347.3 276.5) rotate(-90) scale(0.83 1)">PLTs in respective population [%]</text>
<rect x="378.45" y="508.19" width="10.5" height="7.06" fill="#e5321c" />
<rect x="378.45" y="504.35" width="10.5" height="3.99" fill="#f08c18" />
<rect x="378.45" y="442.14" width="10.5" height="62.36" fill="#fde80e" />
<rect x="378.45" y="439.84" width="10.5" height="2.45" fill="#1b8a5c" />
<rect x="378.45" y="438.3" width="10.5" height="1.69" fill="#2b2d80" />
<line x1="383.7" y1="438.3" x2="383.7" y2="436" stroke="#1a1a1a" stroke-width="0.9"/>
<line x1="381.2" y1="436" x2="386.2" y2="436" stroke="#1a1a1a" stroke-width="1"/>
<line x1="383.7" y1="504.35" x2="383.7" y2="502.04" stroke="#1a1a1a" stroke-width="0.9"/>
<line x1="381.2" y1="502.04" x2="386.2" y2="502.04" stroke="#1a1a1a" stroke-width="1"/>
<line x1="381.2" y1="441.37" x2="386.2" y2="441.37" stroke="#1a1a1a" stroke-width="1"/>
<rect x="394.25" y="514.33" width="10.5" height="0.92" fill="#e5321c" />
<rect x="394.25" y="512.8" width="10.5" height="1.69" fill="#f08c18" />
<rect x="394.25" y="452.12" width="10.5" height="60.82" fill="#fde80e" />
<rect x="394.25" y="439.84" width="10.5" height="12.44" fill="#2f9c48" />
<rect x="394.25" y="438.3" width="10.5" height="1.69" fill="#2b2d80" />
<line x1="399.5" y1="438.3" x2="399.5" y2="434.46" stroke="#1a1a1a" stroke-width="0.9"/>
<line x1="397" y1="434.46" x2="402" y2="434.46" stroke="#1a1a1a" stroke-width="1"/>
<line x1="399.5" y1="512.8" x2="399.5" y2="510.49" stroke="#1a1a1a" stroke-width="0.9"/>
<line x1="397" y1="510.49" x2="402" y2="510.49" stroke="#1a1a1a" stroke-width="1"/>
<line x1="397" y1="444.44" x2="402" y2="444.44" stroke="#1a1a1a" stroke-width="1"/>
<line x1="397" y1="450.59" x2="402" y2="450.59" stroke="#1a1a1a" stroke-width="1"/>
<line x1="397" y1="439.84" x2="402" y2="439.84" stroke="#1a1a1a" stroke-width="1"/>
<rect x="410.15" y="510.49" width="10.5" height="4.76" fill="#e5321c" />
<rect x="410.15" y="507.42" width="10.5" height="3.22" fill="#f08c18" />
<rect x="410.15" y="449.82" width="10.5" height="57.75" fill="#fde80e" />
<rect x="410.15" y="439.84" width="10.5" height="10.13" fill="#2f9c48" />
<rect x="410.15" y="438.3" width="10.5" height="1.69" fill="#2b2d80" />
<line x1="415.4" y1="438.3" x2="415.4" y2="435.23" stroke="#1a1a1a" stroke-width="0.9"/>
<line x1="412.9" y1="435.23" x2="417.9" y2="435.23" stroke="#1a1a1a" stroke-width="1"/>
<line x1="415.4" y1="507.42" x2="415.4" y2="504.35" stroke="#1a1a1a" stroke-width="0.9"/>
<line x1="412.9" y1="504.35" x2="417.9" y2="504.35" stroke="#1a1a1a" stroke-width="1"/>
<line x1="412.9" y1="445.98" x2="417.9" y2="445.98" stroke="#1a1a1a" stroke-width="1"/>
<line x1="412.9" y1="448.28" x2="417.9" y2="448.28" stroke="#1a1a1a" stroke-width="1"/>
<line x1="412.9" y1="441.37" x2="417.9" y2="441.37" stroke="#1a1a1a" stroke-width="1"/>
<rect x="425.95" y="498.2" width="10.5" height="17.05" fill="#e5321c" />
<rect x="425.95" y="492.06" width="10.5" height="6.29" fill="#f08c18" />
<rect x="425.95" y="470.56" width="10.5" height="21.65" fill="#fde80e" />
<rect x="425.95" y="453.66" width="10.5" height="17.05" fill="#b5ca2a" />
<rect x="425.95" y="439.07" width="10.5" height="14.74" fill="#2f9c48" />
<rect x="425.95" y="438.3" width="10.5" height="0.92" fill="#2b2d80" />
<line x1="431.2" y1="438.3" x2="431.2" y2="436" stroke="#1a1a1a" stroke-width="0.9"/>
<line x1="428.7" y1="436" x2="433.7" y2="436" stroke="#1a1a1a" stroke-width="1"/>
<line x1="431.2" y1="470.56" x2="431.2" y2="442.14" stroke="#1a1a1a" stroke-width="0.9"/>
<line x1="428.7" y1="442.14" x2="433.7" y2="442.14" stroke="#1a1a1a" stroke-width="1"/>
<line x1="431.2" y1="492.06" x2="431.2" y2="486.68" stroke="#1a1a1a" stroke-width="0.9"/>
<line x1="428.7" y1="486.68" x2="433.7" y2="486.68" stroke="#1a1a1a" stroke-width="1"/>
<line x1="428.7" y1="453.66" x2="433.7" y2="453.66" stroke="#1a1a1a" stroke-width="1"/>
<line x1="428.7" y1="442.14" x2="433.7" y2="442.14" stroke="#1a1a1a" stroke-width="1"/>
<rect x="441.85" y="489.76" width="10.5" height="25.49" fill="#e5321c" />
<rect x="441.85" y="484.38" width="10.5" height="5.53" fill="#f08c18" />
<rect x="441.85" y="473.63" width="10.5" height="10.9" fill="#fde80e" />
<rect x="441.85" y="451.36" width="10.5" height="22.42" fill="#b5ca2a" />
<rect x="441.85" y="439.84" width="10.5" height="11.67" fill="#2f9c48" />
<rect x="441.85" y="438.3" width="10.5" height="1.69" fill="#2b2d80" />
<line x1="447.1" y1="438.3" x2="447.1" y2="435.23" stroke="#1a1a1a" stroke-width="0.9"/>
<line x1="444.6" y1="435.23" x2="449.6" y2="435.23" stroke="#1a1a1a" stroke-width="1"/>
<line x1="447.1" y1="473.63" x2="447.1" y2="470.56" stroke="#1a1a1a" stroke-width="0.9"/>
<line x1="444.6" y1="470.56" x2="449.6" y2="470.56" stroke="#1a1a1a" stroke-width="1"/>
<line x1="447.1" y1="484.38" x2="447.1" y2="480.54" stroke="#1a1a1a" stroke-width="0.9"/>
<line x1="444.6" y1="480.54" x2="449.6" y2="480.54" stroke="#1a1a1a" stroke-width="1"/>
<line x1="444.6" y1="445.98" x2="449.6" y2="445.98" stroke="#1a1a1a" stroke-width="1"/>
<line x1="444.6" y1="449.82" x2="449.6" y2="449.82" stroke="#1a1a1a" stroke-width="1"/>
<line x1="444.6" y1="442.14" x2="449.6" y2="442.14" stroke="#1a1a1a" stroke-width="1"/>
<rect x="457.65" y="475.16" width="10.5" height="40.09" fill="#e5321c" />
<rect x="457.65" y="470.56" width="10.5" height="4.76" fill="#f08c18" />
<rect x="457.65" y="465.18" width="10.5" height="5.53" fill="#fde80e" />
<rect x="457.65" y="444.44" width="10.5" height="20.89" fill="#b5ca2a" />
<rect x="457.65" y="439.84" width="10.5" height="4.76" fill="#1b8a5c" />
<rect x="457.65" y="438.3" width="10.5" height="1.69" fill="#2b2d80" />
<line x1="462.9" y1="438.3" x2="462.9" y2="430.62" stroke="#1a1a1a" stroke-width="0.9"/>
<line x1="460.4" y1="430.62" x2="465.4" y2="430.62" stroke="#1a1a1a" stroke-width="1"/>
<line x1="462.9" y1="465.18" x2="462.9" y2="461.34" stroke="#1a1a1a" stroke-width="0.9"/>
<line x1="460.4" y1="461.34" x2="465.4" y2="461.34" stroke="#1a1a1a" stroke-width="1"/>
<line x1="462.9" y1="470.56" x2="462.9" y2="467.48" stroke="#1a1a1a" stroke-width="0.9"/>
<line x1="460.4" y1="467.48" x2="465.4" y2="467.48" stroke="#1a1a1a" stroke-width="1"/>
<line x1="460.4" y1="444.44" x2="465.4" y2="444.44" stroke="#1a1a1a" stroke-width="1"/>
<line x1="460.4" y1="442.14" x2="465.4" y2="442.14" stroke="#1a1a1a" stroke-width="1"/>
<line x1="373.6" y1="415.5" x2="373.6" y2="515.8" stroke="#1a1a1a" stroke-width="1.3"/>
<line x1="373" y1="515.3" x2="473.7" y2="515.3" stroke="#1a1a1a" stroke-width="1.5"/>
<line x1="370" y1="515.1" x2="373.6" y2="515.1" stroke="#1a1a1a" stroke-width="1"/>
<text x="367" y="518.7" font-size="8.3" text-anchor="end" font-weight="normal" fill="#222" stroke="#222" stroke-width="0.1" >0</text>
<line x1="370" y1="476.7" x2="373.6" y2="476.7" stroke="#1a1a1a" stroke-width="1"/>
<text x="367" y="480.3" font-size="8.3" text-anchor="end" font-weight="normal" fill="#222" stroke="#222" stroke-width="0.1" >50</text>
<line x1="370" y1="438.3" x2="373.6" y2="438.3" stroke="#1a1a1a" stroke-width="1"/>
<text x="367" y="441.9" font-size="8.3" text-anchor="end" font-weight="normal" fill="#222" stroke="#222" stroke-width="0.1" >100</text>
<line x1="383.7" y1="515.1" x2="383.7" y2="518.3" stroke="#1a1a1a" stroke-width="1"/>
<text x="0" y="0" font-size="8.2" text-anchor="end" fill="#222" stroke="#222" stroke-width="0.12" transform="translate(388 524.3) rotate(-45)">&lt;32</text>
<line x1="399.5" y1="515.1" x2="399.5" y2="518.3" stroke="#1a1a1a" stroke-width="1"/>
<text x="0" y="0" font-size="8.2" text-anchor="end" fill="#222" stroke="#222" stroke-width="0.12" transform="translate(403.8 524.3) rotate(-45)">32-36</text>
<line x1="415.4" y1="515.1" x2="415.4" y2="518.3" stroke="#1a1a1a" stroke-width="1"/>
<text x="0" y="0" font-size="8.2" text-anchor="end" fill="#222" stroke="#222" stroke-width="0.12" transform="translate(419.7 524.3) rotate(-45)">t</text>
<line x1="431.2" y1="515.1" x2="431.2" y2="518.3" stroke="#1a1a1a" stroke-width="1"/>
<text x="0" y="0" font-size="8.2" text-anchor="end" fill="#222" stroke="#222" stroke-width="0.12" transform="translate(435.5 524.3) rotate(-45)">28d-2a</text>
<line x1="447.1" y1="515.1" x2="447.1" y2="518.3" stroke="#1a1a1a" stroke-width="1"/>
<text x="0" y="0" font-size="8.2" text-anchor="end" fill="#222" stroke="#222" stroke-width="0.12" transform="translate(451.4 524.3) rotate(-45)">2-13a</text>
<line x1="462.9" y1="515.1" x2="462.9" y2="518.3" stroke="#1a1a1a" stroke-width="1"/>
<text x="0" y="0" font-size="8.2" text-anchor="end" fill="#222" stroke="#222" stroke-width="0.12" transform="translate(467.2 524.3) rotate(-45)">&gt;13a</text>
<text x="0" y="0" font-size="8.2" text-anchor="middle" fill="#222" stroke="#222" stroke-width="0.12" transform="translate(347.3 465.6) rotate(-90) scale(0.83 1)">PLTs in respective population [%]</text>
</svg></body></html>
